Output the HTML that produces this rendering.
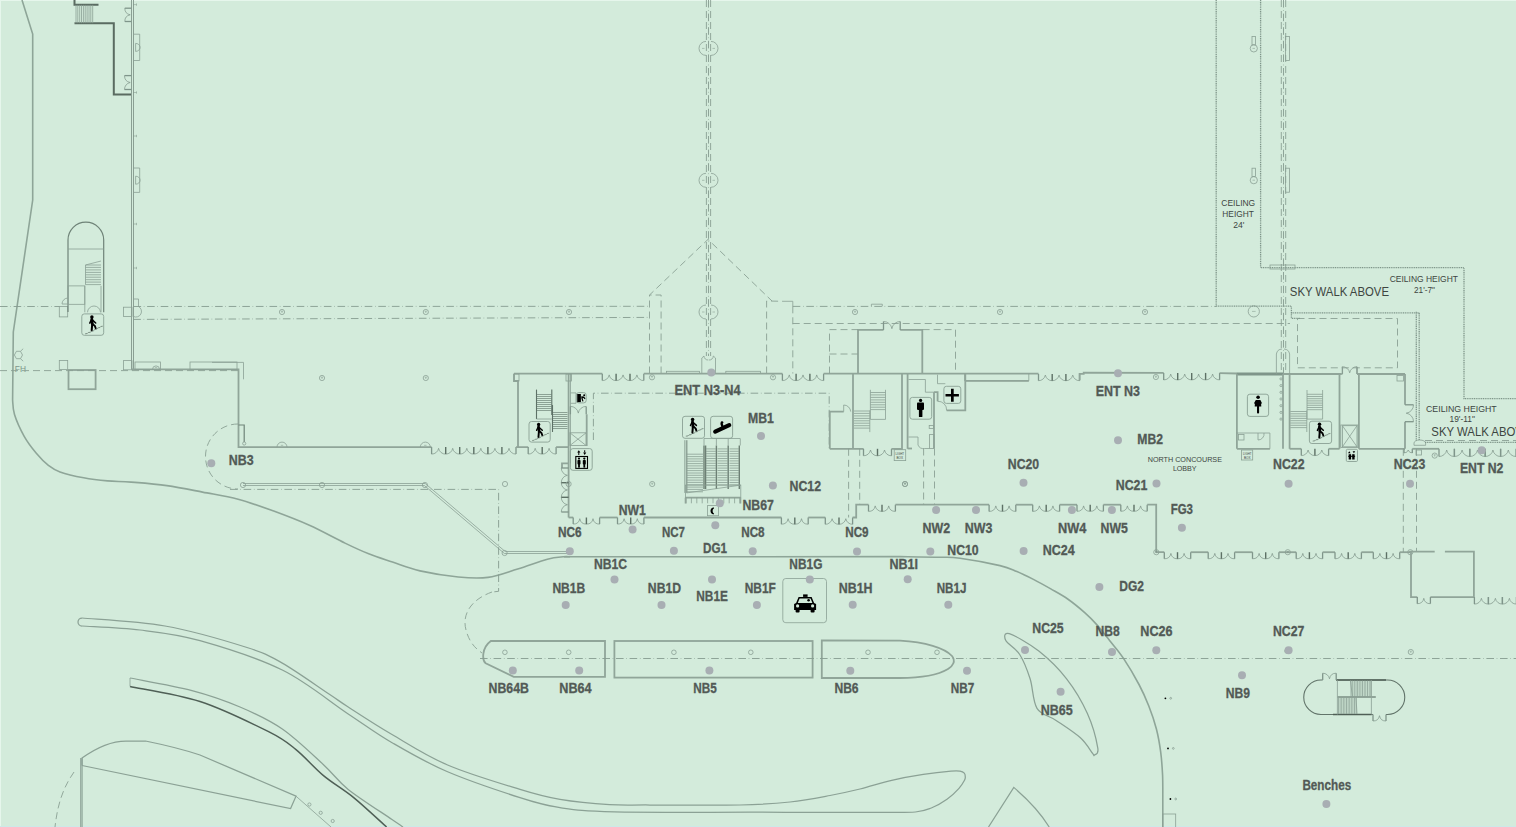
<!DOCTYPE html>
<html><head><meta charset="utf-8"><title>Map</title><style>
*{margin:0;padding:0}
html,body{width:1516px;height:827px;overflow:hidden;background:#d3ebdb}
svg{display:block}
.w{fill:none;stroke:#90a599;stroke-width:1.8}
.w2{fill:none;stroke:#8ea598;stroke-width:1.6}
.t{fill:none;stroke:#8aa094;stroke-width:0.8}
.t2{fill:none;stroke:#8aa094;stroke-width:1.1}
.tk{fill:none;stroke:#6f8479;stroke-width:1.2}
.dk{fill:none;stroke:#5a6b61;stroke-width:2}
.dk2{fill:none;stroke:#4f5f56;stroke-width:1.5}
.d{fill:none;stroke:#8aa094;stroke-width:0.9;stroke-dasharray:7 4}
.dd{fill:none;stroke:#869c90;stroke-width:0.9;stroke-dasharray:7.6 2.7 0.6 2.7}
.sk{fill:none;stroke:#7f968a;stroke-width:1.3;stroke-dasharray:1.1 0.7}
.rail{fill:none;stroke:#6d8075;stroke-width:1.4}
.w3{fill:none;stroke:#7f958a;stroke-width:2.8}
.arc{fill:none;stroke:#7d9286;stroke-width:0.7}
.leaf{fill:none;stroke:#5d7065;stroke-width:1.4}
.frame{fill:none;stroke:#7f958a;stroke-width:1.3}
.hair{fill:none;stroke:#7d9286;stroke-width:0.5}
.t15{fill:none;stroke:#8ba195;stroke-width:1.25}
.cap{fill:none;stroke:#62746a;stroke-width:1.1}
.capd{fill:none;stroke:#4f5f56;stroke-width:1.3}
.st{fill:none;stroke:#8ca295;stroke-width:1}
.stk{fill:none;stroke:#5d7166;stroke-width:1.1}
.w1{fill:none;stroke:#8a9f93;stroke-width:1}
.arch{fill:none;stroke:#6f8378;stroke-width:1.2}
.blk{fill:#000;stroke:none}
.ib{fill:none;stroke:#8aa094;stroke-width:0.9}
.lab text{font-family:"Liberation Sans",sans-serif;font-weight:bold;fill:#525a56;stroke:#525a56;stroke-width:0.3}
.sm text{font-family:"Liberation Sans",sans-serif;fill:#3d4541}
.dots circle{fill:#a8aeb3}
</style></head>
<body><svg width="1516" height="827" viewBox="0 0 1516 827">
<rect x="0" y="0" width="1516" height="827" fill="#d3ebdb"/>
<line x1="0" y1="0.5" x2="1516" y2="0.5" stroke="#e6f6ec" stroke-width="1"/>
<line x1="0.5" y1="0" x2="0.5" y2="827" stroke="#e6f6ec" stroke-width="1"/>
<line x1="0" y1="826.5" x2="1516" y2="826.5" stroke="#cce9e8" stroke-width="1"/>
<path class="w2" d="M22 0 L32.7 34 L32.7 200 L13.3 332 L12.6 400 C12.9 402.4 12.6 408.4 14.5 414.5 C16.4 420.6 20.6 429.9 24.2 436.3 C27.8 442.8 32.3 448.4 36.3 453.2 C40.3 458.0 44.4 462.2 48.4 465.3 C52.4 468.4 54.1 469.8 60.0 471.9 C65.9 474.0 75.8 476.3 83.7 477.8 C91.6 479.3 99.6 480.2 107.5 480.9 C115.4 481.6 121.3 481.3 131.2 482.1 C141.1 482.9 155.0 483.9 166.9 485.6 C178.8 487.3 190.6 489.8 202.5 492.1 C214.4 494.4 226.2 496.0 238.1 499.2 C250.0 502.4 261.8 506.8 273.7 511.1 C285.6 515.5 297.5 520.0 309.4 525.3 C321.3 530.6 335.1 538.4 345.0 543.1 C354.9 547.9 360.8 550.6 368.7 553.8 C376.6 557.0 383.9 559.2 392.5 562.1 C401.1 565.0 409.0 568.4 420.0 570.9 C431.0 573.4 447.0 575.9 458.3 577.0 C469.6 578.1 478.1 578.7 488.0 577.4 C497.9 576.1 507.8 572.0 517.7 569.0 C527.6 566.0 539.8 561.2 547.4 559.2 C555.0 557.2 559.4 557.2 563.2 556.8 C567.0 556.4 568.9 556.8 570.0 556.8 "/>
<polyline class="dk" points="74.5,0.0 74.5,4.8 98.5,4.8"/>
<polyline class="dk" points="74.5,23.2 113.8,23.2 113.8,94.4 131.4,94.4"/>
<line class="t" x1="76.0" y1="4.8" x2="76.0" y2="23.2"/>
<line class="t" x1="77.8" y1="4.8" x2="77.8" y2="23.2"/>
<line class="t" x1="79.7" y1="4.8" x2="79.7" y2="23.2"/>
<line class="t" x1="81.5" y1="4.8" x2="81.5" y2="23.2"/>
<line class="t" x1="83.4" y1="4.8" x2="83.4" y2="23.2"/>
<line class="t" x1="85.2" y1="4.8" x2="85.2" y2="23.2"/>
<line class="t" x1="87.1" y1="4.8" x2="87.1" y2="23.2"/>
<line class="t" x1="89.0" y1="4.8" x2="89.0" y2="23.2"/>
<line class="t" x1="90.8" y1="4.8" x2="90.8" y2="23.2"/>
<line class="t" x1="92.7" y1="4.8" x2="92.7" y2="23.2"/>
<line class="w1" x1="131.5" y1="0.0" x2="131.5" y2="369.4"/>
<line class="w1" x1="133.5" y1="0.0" x2="133.5" y2="369.4"/>
<path class="arc" d="M124.8 8.2 A6.7 6.7 0 0 0 130.2 14.8 M124.8 21.5 A6.7 6.7 0 0 1 130.2 14.8 "/>
<line class="frame" x1="131.4" y1="8.2" x2="124.8" y2="8.2"/>
<line class="frame" x1="131.4" y1="21.5" x2="124.8" y2="21.5"/>
<path class="arc" d="M124.5 75.6 A7.0 7.0 0 0 0 130.2 82.5 M124.5 89.5 A7.0 7.0 0 0 1 130.2 82.5 "/>
<line class="frame" x1="131.4" y1="75.6" x2="124.5" y2="75.6"/>
<line class="frame" x1="131.4" y1="89.5" x2="124.5" y2="89.5"/>
<polyline class="t" points="133.5,34.2 139.7,34.2 139.7,60.5 133.5,60.5"/>
<path class="t" d="M135.6 43.4 L135.6 51.4 M135.6 43.4 A4.5 4 0 0 1 135.6 51.4"/>
<polyline class="t" points="133.5,168.0 139.7,168.0 139.7,192.4 133.5,192.4"/>
<path class="t" d="M135.6 176.2 L135.6 184.2 M135.6 176.2 A4.5 4 0 0 1 135.6 184.2"/>
<line class="hair" x1="133.3" y1="4.6" x2="136.5" y2="4.6"/>
<line class="hair" x1="136.5" y1="3.4" x2="136.5" y2="5.8"/>
<line class="hair" x1="133.3" y1="92.5" x2="136.5" y2="92.5"/>
<line class="hair" x1="136.5" y1="91.3" x2="136.5" y2="93.7"/>
<line class="hair" x1="133.3" y1="136.0" x2="136.5" y2="136.0"/>
<line class="hair" x1="136.5" y1="134.8" x2="136.5" y2="137.2"/>
<line class="hair" x1="133.3" y1="224.0" x2="136.5" y2="224.0"/>
<line class="hair" x1="136.5" y1="222.8" x2="136.5" y2="225.2"/>
<line class="hair" x1="133.3" y1="268.0" x2="136.5" y2="268.0"/>
<line class="hair" x1="136.5" y1="266.8" x2="136.5" y2="269.2"/>
<polyline class="w" points="131.4,369.4 238.5,369.4 238.5,447.1 431.6,447.1"/>
<polyline class="t" points="212.0,362.4 243.5,362.4 243.5,379.3"/>
<rect class="t" x="135.0" y="362.0" width="25.5" height="7.4"/>
<rect class="t" x="190.0" y="362.0" width="47.0" height="7.4"/>
<path class="t" d="M152.5 369.4 A3.5 3.5 0 0 1 159.5 369.4"/>
<line class="hair" x1="154.8" y1="367.6" x2="157.2" y2="367.6"/>
<path class="t" d="M277.0 447.1 A5 5 0 0 1 287.0 447.1"/>
<line class="hair" x1="280.8" y1="445.3" x2="283.2" y2="445.3"/>
<path class="t" d="M420.3 447.1 A5 5 0 0 1 430.3 447.1"/>
<line class="hair" x1="424.1" y1="445.3" x2="426.5" y2="445.3"/>
<rect class="t" x="123.4" y="307.2" width="8.6" height="9.2"/>
<rect class="t" x="123.4" y="360.6" width="8.6" height="9.2"/>
<path class="t" d="M133.3 299 L138.5 299 L138.5 306.5 A5 5 0 0 1 133.3 316.4"/>
<polyline class="tk" points="238.5,425.0 244.2,425.0 244.2,442.0"/>
<circle class="t" cx="244.2" cy="443.5" r="1.6"/>
<rect class="t" x="59.3" y="306.5" width="8.4" height="10.4"/>
<rect class="t" x="59.3" y="360.4" width="8.4" height="9.0"/>
<rect class="w" x="68.5" y="370.0" width="27.1" height="19.2"/>
<path class="arch" d="M68 312 L68 240 A17.85 17.85 0 0 1 103.7 240 L103.7 312.3"/>
<line class="t" x1="68.0" y1="249.0" x2="103.7" y2="249.0"/>
<line class="t" x1="85.5" y1="265.0" x2="101.0" y2="265.0"/>
<line class="t" x1="85.5" y1="267.4" x2="101.0" y2="267.4"/>
<line class="t" x1="85.5" y1="269.9" x2="101.0" y2="269.9"/>
<line class="t" x1="85.5" y1="272.4" x2="101.0" y2="272.4"/>
<line class="t" x1="85.5" y1="274.8" x2="101.0" y2="274.8"/>
<line class="t" x1="85.5" y1="277.2" x2="101.0" y2="277.2"/>
<line class="t" x1="85.5" y1="279.7" x2="101.0" y2="279.7"/>
<line class="t" x1="85.5" y1="282.1" x2="101.0" y2="282.1"/>
<line class="t" x1="85.5" y1="284.6" x2="101.0" y2="284.6"/>
<polyline class="t" points="85.5,284.7 85.5,265.0 101.0,261.0"/>
<rect class="t" x="68.0" y="285.9" width="16.8" height="18.4"/>
<line class="t" x1="84.8" y1="285.9" x2="84.8" y2="312.3"/>
<line class="t" x1="101.0" y1="285.9" x2="101.0" y2="312.3"/>
<path class="t" d="M87.5 312.3 A6.5 6.5 0 0 1 94 306 M100.5 312.3 A6.5 6.5 0 0 0 94 306"/>
<path class="t" d="M68 298 A6 6 0 0 0 62 304 L68 304"/>
<text x="14.8" y="371.6" textLength="11.2" lengthAdjust="spacingAndGlyphs" font-size="9" fill="#7f968a" font-family="Liberation Sans, sans-serif">FH</text>
<path class="t" d="M14.4 355 L16.4 351.3 L20.5 351.3 L22.5 355 L20.5 358.7 L16.4 358.7 Z M20.5 351.3 L23.2 348.7 M20.5 358.7 L23.2 361.2"/>
<line class="dd" x1="0.0" y1="306.5" x2="59.0" y2="306.5"/>
<line class="dd" x1="133.5" y1="306.5" x2="649.5" y2="306.3"/>
<line class="dd" x1="133.3" y1="319.4" x2="649.5" y2="317.4"/>
<line class="d" x1="0.0" y1="370.6" x2="240.0" y2="370.6"/>
<line class="dd" x1="792.7" y1="306.4" x2="1216.0" y2="306.4"/>
<line class="d" x1="792.7" y1="323.5" x2="1290.0" y2="323.5"/>
<circle class="t" cx="322.0" cy="378.0" r="2.6"/>
<line class="hair" x1="320.9" y1="377.2" x2="323.1" y2="377.2"/>
<line class="hair" x1="322.0" y1="377.2" x2="322.0" y2="379.0"/>
<circle class="t" cx="425.8" cy="378.0" r="2.6"/>
<line class="hair" x1="424.7" y1="377.2" x2="426.9" y2="377.2"/>
<line class="hair" x1="425.8" y1="377.2" x2="425.8" y2="379.0"/>
<circle class="t" cx="425.8" cy="312.0" r="2.6"/>
<line class="hair" x1="424.7" y1="311.2" x2="426.9" y2="311.2"/>
<line class="hair" x1="425.8" y1="311.2" x2="425.8" y2="313.0"/>
<circle class="t" cx="569.0" cy="312.0" r="2.6"/>
<line class="hair" x1="567.9" y1="311.2" x2="570.1" y2="311.2"/>
<line class="hair" x1="569.0" y1="311.2" x2="569.0" y2="313.0"/>
<circle class="t" cx="282.0" cy="312.0" r="2.6"/>
<line class="hair" x1="280.9" y1="311.2" x2="283.1" y2="311.2"/>
<line class="hair" x1="282.0" y1="311.2" x2="282.0" y2="313.0"/>
<circle class="t" cx="1000.0" cy="312.0" r="2.6"/>
<line class="hair" x1="998.9" y1="311.2" x2="1001.1" y2="311.2"/>
<line class="hair" x1="1000.0" y1="311.2" x2="1000.0" y2="313.0"/>
<circle class="t" cx="1145.0" cy="312.0" r="2.6"/>
<line class="hair" x1="1143.9" y1="311.2" x2="1146.1" y2="311.2"/>
<line class="hair" x1="1145.0" y1="311.2" x2="1145.0" y2="313.0"/>
<circle class="t" cx="855.0" cy="312.0" r="2.6"/>
<line class="hair" x1="853.9" y1="311.2" x2="856.1" y2="311.2"/>
<line class="hair" x1="855.0" y1="311.2" x2="855.0" y2="313.0"/>
<path class="t" d="M243 483.5 L425.2 483.5 L505.2 551.5 L569 551.5"/>
<path class="t" d="M243 485.5 L424.4 485.5 L504.4 553.5 L569 553.5"/>
<circle class="t" cx="243.0" cy="485.0" r="2.6"/>
<circle class="t" cx="322.0" cy="485.0" r="2.6"/>
<circle class="t" cx="424.9" cy="485.0" r="2.6"/>
<circle class="t" cx="504.6" cy="553.0" r="2.6"/>
<circle class="t" cx="505.0" cy="484.0" r="2.6"/>
<path class="dd" d="M230 489.4 L498.6 489.4 L498.6 591.3 L492.5 592"/>
<path class="d" d="M238 424 A32.5 32.5 0 0 0 238 489"/>
<path class="d" d="M492 592 C470 600 462 615 466 630 C470 645 478 650 482 653"/>
<line class="d" x1="706.4" y1="0.0" x2="706.4" y2="356.0"/>
<line class="d" x1="710.6" y1="0.0" x2="710.6" y2="356.0"/>
<line class="dd" x1="708.5" y1="0.0" x2="708.5" y2="356.0"/>
<path class="t" d="M706 41.4 A7 7 0 0 0 706 55.4"/>
<path class="t" d="M711 41.4 A7 7 0 0 1 711 55.4"/>
<line class="hair" x1="702.0" y1="48.4" x2="704.5" y2="48.4"/>
<line class="hair" x1="712.5" y1="48.4" x2="715.0" y2="48.4"/>
<path class="t" d="M706 173.3 A7 7 0 0 0 706 187.3"/>
<path class="t" d="M711 173.3 A7 7 0 0 1 711 187.3"/>
<line class="hair" x1="702.0" y1="180.3" x2="704.5" y2="180.3"/>
<line class="hair" x1="712.5" y1="180.3" x2="715.0" y2="180.3"/>
<path class="t" d="M706 305.0 A7 7 0 0 0 706 319.0"/>
<path class="t" d="M711 305.0 A7 7 0 0 1 711 319.0"/>
<line class="hair" x1="702.0" y1="312.0" x2="704.5" y2="312.0"/>
<line class="hair" x1="712.5" y1="312.0" x2="715.0" y2="312.0"/>
<path class="d" d="M649.5 373.5 L649.5 295 L708 239.4 L772 301"/>
<path class="d" d="M661.1 373.5 L661.1 295 L649.5 295"/>
<path class="d" d="M766.6 373.5 L766.6 301 L782.9 301.3 M792.8 306.3 L792.8 373.5"/>
<polyline class="t" points="701.8,373.5 701.8,358.0 704.0,356.0"/>
<polyline class="t" points="715.5,373.5 715.5,358.0 713.3,356.0"/>
<path class="t" d="M704 356 A4 4 0 0 0 708.3 360 M713.3 356 A4 4 0 0 1 709 360"/>
<rect class="t" x="666.6" y="371.3" width="33.0" height="2.2"/>
<rect class="t" x="725.8" y="371.3" width="34.6" height="2.2"/>
<line class="w" x1="514.0" y1="373.7" x2="602.3" y2="373.7"/>
<path class="arc" d="M602.3 380.6 A6.9 6.9 0 0 0 609.2 374.9 M616.1 380.6 A6.9 6.9 0 0 1 609.2 374.9 M616.1 380.6 A6.9 6.9 0 0 0 623.0 374.9 M630.0 380.6 A6.9 6.9 0 0 1 623.1 374.9 M630.0 380.6 A6.9 6.9 0 0 0 636.9 374.9 M643.8 380.6 A6.9 6.9 0 0 1 636.9 374.9 "/>
<line class="frame" x1="602.3" y1="373.7" x2="602.3" y2="380.6"/>
<line class="leaf" x1="616.1" y1="373.7" x2="616.1" y2="380.6"/>
<line class="leaf" x1="630.0" y1="373.7" x2="630.0" y2="380.6"/>
<line class="frame" x1="643.8" y1="373.7" x2="643.8" y2="380.6"/>
<line class="w" x1="643.8" y1="373.7" x2="782.4" y2="373.7"/>
<path class="arc" d="M782.4 380.6 A6.9 6.9 0 0 0 789.3 374.9 M796.1 380.6 A6.9 6.9 0 0 1 789.3 374.9 M796.1 380.6 A6.9 6.9 0 0 0 803.0 374.9 M809.9 380.6 A6.9 6.9 0 0 1 803.0 374.9 M809.9 380.6 A6.9 6.9 0 0 0 816.7 374.9 M823.6 380.6 A6.9 6.9 0 0 1 816.7 374.9 "/>
<line class="frame" x1="782.4" y1="373.7" x2="782.4" y2="380.6"/>
<line class="leaf" x1="796.1" y1="373.7" x2="796.1" y2="380.6"/>
<line class="leaf" x1="809.9" y1="373.7" x2="809.9" y2="380.6"/>
<line class="frame" x1="823.6" y1="373.7" x2="823.6" y2="380.6"/>
<line class="w" x1="823.6" y1="373.7" x2="1038.5" y2="373.7"/>
<circle class="t" cx="652.0" cy="377.3" r="2.6"/>
<line class="hair" x1="650.9" y1="376.5" x2="653.1" y2="376.5"/>
<line class="hair" x1="652.0" y1="376.5" x2="652.0" y2="378.3"/>
<circle class="t" cx="773.0" cy="377.3" r="2.6"/>
<line class="hair" x1="771.9" y1="376.5" x2="774.1" y2="376.5"/>
<line class="hair" x1="773.0" y1="376.5" x2="773.0" y2="378.3"/>
<polyline class="t" points="964.6,373.9 964.6,380.8 1028.8,380.8 1028.8,373.9"/>
<line class="w" x1="965.0" y1="380.8" x2="1028.8" y2="380.8"/>
<path class="arc" d="M1038.5 380.7 A6.8 6.8 0 0 0 1045.3 375.1 M1052.2 380.7 A6.8 6.8 0 0 1 1045.4 375.1 M1052.2 380.7 A6.8 6.8 0 0 0 1059.0 375.1 M1065.9 380.7 A6.8 6.8 0 0 1 1059.1 375.1 M1065.9 380.7 A6.8 6.8 0 0 0 1072.7 375.1 M1079.6 380.7 A6.8 6.8 0 0 1 1072.8 375.1 "/>
<line class="frame" x1="1038.5" y1="373.9" x2="1038.5" y2="380.7"/>
<line class="leaf" x1="1052.2" y1="373.9" x2="1052.2" y2="380.7"/>
<line class="leaf" x1="1065.9" y1="373.9" x2="1065.9" y2="380.7"/>
<line class="frame" x1="1079.6" y1="373.9" x2="1079.6" y2="380.7"/>
<polyline class="w" points="1079.6,380.0 1079.6,373.9 1083.7,373.9 1083.7,372.7 1163.7,372.9"/>
<path class="arc" d="M1163.7 379.9 A7.0 7.0 0 0 0 1170.7 374.1 M1177.7 379.9 A7.0 7.0 0 0 1 1170.7 374.1 M1177.7 379.9 A7.0 7.0 0 0 0 1184.7 374.1 M1191.6 379.9 A7.0 7.0 0 0 1 1184.7 374.1 M1191.7 379.9 A7.0 7.0 0 0 0 1198.6 374.1 M1205.6 379.9 A7.0 7.0 0 0 1 1198.6 374.1 M1205.6 379.9 A7.0 7.0 0 0 0 1212.6 374.1 M1219.6 379.9 A7.0 7.0 0 0 1 1212.6 374.1 "/>
<line class="frame" x1="1163.7" y1="372.9" x2="1163.7" y2="379.9"/>
<line class="leaf" x1="1177.7" y1="372.9" x2="1177.7" y2="379.9"/>
<line class="leaf" x1="1191.7" y1="372.9" x2="1191.7" y2="379.9"/>
<line class="leaf" x1="1205.6" y1="372.9" x2="1205.6" y2="379.9"/>
<line class="frame" x1="1219.6" y1="372.9" x2="1219.6" y2="379.9"/>
<line class="w" x1="1219.6" y1="373.2" x2="1237.1" y2="373.5"/>
<circle class="t" cx="1155.9" cy="377.0" r="2.6"/>
<line class="hair" x1="1154.8" y1="376.2" x2="1157.0" y2="376.2"/>
<line class="hair" x1="1155.9" y1="376.2" x2="1155.9" y2="378.0"/>
<polyline class="w" points="858.0,373.6 858.0,329.9 883.5,329.9"/>
<polyline class="w" points="900.2,329.9 922.3,329.9 922.3,373.6"/>
<path class="arc" d="M883.5 321.5 A8.4 8.4 0 0 1 891.9 328.7 M900.2 321.5 A8.4 8.4 0 0 0 891.9 328.7 "/>
<line class="frame" x1="883.5" y1="329.9" x2="883.5" y2="321.5"/>
<line class="frame" x1="900.2" y1="329.9" x2="900.2" y2="321.5"/>
<polyline class="t" points="871.4,306.3 871.4,304.2 882.3,304.2 882.3,306.3"/>
<polyline class="t" points="782.9,301.3 792.8,301.3 792.8,306.3"/>
<path class="d" d="M829.5 373.6 L829.5 329.6 L858 329.6 M922.6 329.6 L955.5 329.6 L955.5 373.6"/>
<line class="d" x1="829.5" y1="354.0" x2="858.0" y2="354.0"/>
<polyline class="w" points="514.0,373.7 514.0,381.0 518.0,381.0 518.0,447.1 528.2,447.1"/>
<rect class="t" x="514.0" y="374.0" width="5.0" height="7.0"/>
<path class="arc" d="M528.2 454.1 A7.0 7.0 0 0 0 535.2 448.3 M542.2 454.1 A7.0 7.0 0 0 1 535.2 448.3 M542.2 454.1 A7.0 7.0 0 0 0 549.1 448.3 M556.1 454.1 A7.0 7.0 0 0 1 549.1 448.3 "/>
<line class="frame" x1="528.2" y1="447.1" x2="528.2" y2="454.1"/>
<line class="leaf" x1="542.2" y1="447.1" x2="542.2" y2="454.1"/>
<line class="frame" x1="556.1" y1="447.1" x2="556.1" y2="454.1"/>
<line class="w" x1="556.1" y1="447.1" x2="568.8" y2="447.1"/>
<path class="arc" d="M431.6 454.1 A7.0 7.0 0 0 0 438.6 448.3 M445.7 454.1 A7.0 7.0 0 0 1 438.6 448.3 M445.7 454.1 A7.0 7.0 0 0 0 452.7 448.3 M459.7 454.1 A7.0 7.0 0 0 1 452.7 448.3 M459.7 454.1 A7.0 7.0 0 0 0 466.8 448.3 M473.8 454.1 A7.0 7.0 0 0 1 466.8 448.3 M473.8 454.1 A7.0 7.0 0 0 0 480.8 448.3 M487.9 454.1 A7.0 7.0 0 0 1 480.8 448.3 M487.9 454.1 A7.0 7.0 0 0 0 494.9 448.3 M501.9 454.1 A7.0 7.0 0 0 1 494.9 448.3 M501.9 454.1 A7.0 7.0 0 0 0 509.0 448.3 M516.0 454.1 A7.0 7.0 0 0 1 509.0 448.3 "/>
<line class="frame" x1="431.6" y1="447.1" x2="431.6" y2="454.1"/>
<line class="leaf" x1="445.7" y1="447.1" x2="445.7" y2="454.1"/>
<line class="leaf" x1="459.7" y1="447.1" x2="459.7" y2="454.1"/>
<line class="leaf" x1="473.8" y1="447.1" x2="473.8" y2="454.1"/>
<line class="leaf" x1="487.9" y1="447.1" x2="487.9" y2="454.1"/>
<line class="leaf" x1="501.9" y1="447.1" x2="501.9" y2="454.1"/>
<line class="frame" x1="516.0" y1="447.1" x2="516.0" y2="454.1"/>
<polyline class="w" points="516.0,447.1 518.0,447.1"/>
<line class="w" x1="568.6" y1="374.0" x2="568.6" y2="517.5"/>
<line class="t" x1="570.5" y1="374.0" x2="570.5" y2="463.4"/>
<rect class="t" x="566.0" y="374.0" width="5.5" height="7.0"/>
<line class="st" x1="537.0" y1="394.5" x2="551.5" y2="394.5"/>
<line class="st" x1="537.0" y1="396.5" x2="551.5" y2="396.5"/>
<line class="st" x1="537.0" y1="398.5" x2="551.5" y2="398.5"/>
<line class="st" x1="537.0" y1="400.5" x2="551.5" y2="400.5"/>
<line class="st" x1="537.0" y1="402.5" x2="551.5" y2="402.5"/>
<line class="st" x1="537.0" y1="404.5" x2="551.5" y2="404.5"/>
<line class="st" x1="537.0" y1="406.5" x2="551.5" y2="406.5"/>
<line class="st" x1="537.0" y1="408.5" x2="551.5" y2="408.5"/>
<line class="st" x1="537.0" y1="410.5" x2="551.5" y2="410.5"/>
<line class="stk" x1="536.5" y1="389.6" x2="536.5" y2="419.0"/>
<line class="stk" x1="551.8" y1="389.6" x2="551.8" y2="415.0"/>
<line class="t" x1="536.5" y1="419.0" x2="551.8" y2="419.0"/>
<line class="st" x1="553.0" y1="412.5" x2="567.5" y2="412.5"/>
<line class="st" x1="553.0" y1="414.5" x2="567.5" y2="414.5"/>
<line class="st" x1="553.0" y1="416.5" x2="567.5" y2="416.5"/>
<line class="st" x1="553.0" y1="418.5" x2="567.5" y2="418.5"/>
<line class="st" x1="553.0" y1="420.5" x2="567.5" y2="420.5"/>
<line class="st" x1="553.0" y1="422.5" x2="567.5" y2="422.5"/>
<line class="st" x1="553.0" y1="424.5" x2="567.5" y2="424.5"/>
<line class="st" x1="553.0" y1="426.5" x2="567.5" y2="426.5"/>
<line class="st" x1="553.0" y1="428.5" x2="567.5" y2="428.5"/>
<line class="stk" x1="552.5" y1="405.0" x2="552.5" y2="432.0"/>
<rect class="t" x="569.9" y="432.8" width="16.2" height="12.7"/>
<line class="t" x1="569.9" y1="432.8" x2="586.1" y2="445.5"/>
<line class="t" x1="586.1" y1="432.8" x2="569.9" y2="445.5"/>
<polyline class="t" points="570.5,392.9 576.0,392.9 576.0,403.3 570.5,403.3"/>
<line class="w" x1="586.7" y1="414.3" x2="586.7" y2="446.0"/>
<path class="arc" d="M570.4 406.4 A7.9 7.9 0 0 1 578.3 413.1 M586.2 406.4 A7.9 7.9 0 0 0 578.3 413.1 "/>
<line class="frame" x1="570.4" y1="414.3" x2="570.4" y2="406.4"/>
<line class="frame" x1="586.2" y1="414.3" x2="586.2" y2="406.4"/>
<polyline class="w" points="568.6,463.4 562.0,463.4 562.0,468.0"/>
<path class="arc" d="M561.3 468.0 A7.3 7.3 0 0 0 567.4 475.3 M561.3 482.7 A7.3 7.3 0 0 1 567.4 475.3 M561.3 482.7 A7.3 7.3 0 0 0 567.4 490.0 M561.3 497.3 A7.3 7.3 0 0 1 567.4 490.0 M561.3 497.3 A7.3 7.3 0 0 0 567.4 504.7 M561.3 512.0 A7.3 7.3 0 0 1 567.4 504.7 "/>
<line class="frame" x1="568.6" y1="468.0" x2="561.3" y2="468.0"/>
<line class="leaf" x1="568.6" y1="482.7" x2="561.3" y2="482.7"/>
<line class="leaf" x1="568.6" y1="497.3" x2="561.3" y2="497.3"/>
<line class="frame" x1="568.6" y1="512.0" x2="561.3" y2="512.0"/>
<polyline class="w" points="568.6,517.5 573.2,517.5"/>
<path class="arc" d="M573.2 524.1 A6.6 6.6 0 0 0 579.8 518.7 M586.4 524.1 A6.6 6.6 0 0 1 579.8 518.7 M586.4 524.1 A6.6 6.6 0 0 0 593.0 518.7 M599.6 524.1 A6.6 6.6 0 0 1 593.0 518.7 "/>
<line class="frame" x1="573.2" y1="517.5" x2="573.2" y2="524.1"/>
<line class="leaf" x1="586.4" y1="517.5" x2="586.4" y2="524.1"/>
<line class="frame" x1="599.6" y1="517.5" x2="599.6" y2="524.1"/>
<line class="w" x1="599.6" y1="517.5" x2="617.5" y2="517.5"/>
<path class="arc" d="M617.5 524.1 A6.6 6.6 0 0 0 624.1 518.7 M630.7 524.1 A6.6 6.6 0 0 1 624.1 518.7 M630.7 524.1 A6.6 6.6 0 0 0 637.3 518.7 M643.9 524.1 A6.6 6.6 0 0 1 637.3 518.7 "/>
<line class="frame" x1="617.5" y1="517.5" x2="617.5" y2="524.1"/>
<line class="leaf" x1="630.7" y1="517.5" x2="630.7" y2="524.1"/>
<line class="frame" x1="643.9" y1="517.5" x2="643.9" y2="524.1"/>
<line class="w" x1="643.9" y1="517.5" x2="781.4" y2="517.5"/>
<path class="arc" d="M781.4 524.2 A6.7 6.7 0 0 0 788.1 518.7 M794.8 524.2 A6.7 6.7 0 0 1 788.1 518.7 M794.8 524.2 A6.7 6.7 0 0 0 801.5 518.7 M808.2 524.2 A6.7 6.7 0 0 1 801.5 518.7 "/>
<line class="frame" x1="781.4" y1="517.5" x2="781.4" y2="524.2"/>
<line class="leaf" x1="794.8" y1="517.5" x2="794.8" y2="524.2"/>
<line class="frame" x1="808.2" y1="517.5" x2="808.2" y2="524.2"/>
<line class="w" x1="808.2" y1="517.5" x2="825.3" y2="517.5"/>
<path class="arc" d="M825.3 524.3 A6.8 6.8 0 0 0 832.1 518.7 M839.0 524.3 A6.8 6.8 0 0 1 832.1 518.7 M839.0 524.3 A6.8 6.8 0 0 0 845.8 518.7 M852.6 524.3 A6.8 6.8 0 0 1 845.8 518.7 "/>
<line class="frame" x1="825.3" y1="517.5" x2="825.3" y2="524.3"/>
<line class="leaf" x1="839.0" y1="517.5" x2="839.0" y2="524.3"/>
<line class="frame" x1="852.6" y1="517.5" x2="852.6" y2="524.3"/>
<polyline class="w" points="852.6,517.5 856.2,517.5 856.2,504.7 868.5,504.7"/>
<path class="arc" d="M868.5 511.4 A6.7 6.7 0 0 0 875.2 505.9 M882.0 511.4 A6.7 6.7 0 0 1 875.2 505.9 M882.0 511.4 A6.7 6.7 0 0 0 888.7 505.9 M895.4 511.4 A6.7 6.7 0 0 1 888.7 505.9 "/>
<line class="frame" x1="868.5" y1="504.7" x2="868.5" y2="511.4"/>
<line class="leaf" x1="882.0" y1="504.7" x2="882.0" y2="511.4"/>
<line class="frame" x1="895.4" y1="504.7" x2="895.4" y2="511.4"/>
<line class="w" x1="895.4" y1="504.7" x2="989.1" y2="504.7"/>
<path class="arc" d="M989.1 511.4 A6.7 6.7 0 0 0 995.8 505.9 M1002.5 511.4 A6.7 6.7 0 0 1 995.8 505.9 M1002.5 511.4 A6.7 6.7 0 0 0 1009.1 505.9 M1015.8 511.4 A6.7 6.7 0 0 1 1009.1 505.9 "/>
<line class="frame" x1="989.1" y1="504.7" x2="989.1" y2="511.4"/>
<line class="leaf" x1="1002.5" y1="504.7" x2="1002.5" y2="511.4"/>
<line class="frame" x1="1015.8" y1="504.7" x2="1015.8" y2="511.4"/>
<line class="w" x1="1015.8" y1="504.7" x2="1032.7" y2="504.7"/>
<path class="arc" d="M1032.7 511.4 A6.7 6.7 0 0 0 1039.4 505.9 M1046.2 511.4 A6.7 6.7 0 0 1 1039.4 505.9 M1046.2 511.4 A6.7 6.7 0 0 0 1052.9 505.9 M1059.6 511.4 A6.7 6.7 0 0 1 1052.9 505.9 "/>
<line class="frame" x1="1032.7" y1="504.7" x2="1032.7" y2="511.4"/>
<line class="leaf" x1="1046.2" y1="504.7" x2="1046.2" y2="511.4"/>
<line class="frame" x1="1059.6" y1="504.7" x2="1059.6" y2="511.4"/>
<line class="w" x1="1059.6" y1="504.7" x2="1077.0" y2="504.7"/>
<path class="arc" d="M1077.0 511.3 A6.6 6.6 0 0 0 1083.6 505.9 M1090.2 511.3 A6.6 6.6 0 0 1 1083.6 505.9 M1090.2 511.3 A6.6 6.6 0 0 0 1096.8 505.9 M1103.4 511.3 A6.6 6.6 0 0 1 1096.8 505.9 "/>
<line class="frame" x1="1077.0" y1="504.7" x2="1077.0" y2="511.3"/>
<line class="leaf" x1="1090.2" y1="504.7" x2="1090.2" y2="511.3"/>
<line class="frame" x1="1103.4" y1="504.7" x2="1103.4" y2="511.3"/>
<line class="w" x1="1103.4" y1="504.7" x2="1120.8" y2="504.7"/>
<path class="arc" d="M1120.8 511.3 A6.6 6.6 0 0 0 1127.4 505.9 M1134.0 511.3 A6.6 6.6 0 0 1 1127.4 505.9 M1134.0 511.3 A6.6 6.6 0 0 0 1140.6 505.9 M1147.2 511.3 A6.6 6.6 0 0 1 1140.6 505.9 "/>
<line class="frame" x1="1120.8" y1="504.7" x2="1120.8" y2="511.3"/>
<line class="leaf" x1="1134.0" y1="504.7" x2="1134.0" y2="511.3"/>
<line class="frame" x1="1147.2" y1="504.7" x2="1147.2" y2="511.3"/>
<polyline class="w" points="1147.2,504.7 1156.2,504.7 1156.2,552.2 1164.3,552.2"/>
<path class="arc" d="M1164.3 558.8 A6.6 6.6 0 0 0 1170.9 553.4 M1177.5 558.8 A6.6 6.6 0 0 1 1170.9 553.4 M1177.5 558.8 A6.6 6.6 0 0 0 1184.1 553.4 M1190.7 558.8 A6.6 6.6 0 0 1 1184.1 553.4 "/>
<line class="frame" x1="1164.3" y1="552.2" x2="1164.3" y2="558.8"/>
<line class="leaf" x1="1177.5" y1="552.2" x2="1177.5" y2="558.8"/>
<line class="frame" x1="1190.7" y1="552.2" x2="1190.7" y2="558.8"/>
<line class="w" x1="1190.7" y1="552.2" x2="1208.2" y2="552.2"/>
<path class="arc" d="M1208.2 558.8 A6.6 6.6 0 0 0 1214.8 553.4 M1221.4 558.8 A6.6 6.6 0 0 1 1214.8 553.4 M1221.4 558.8 A6.6 6.6 0 0 0 1228.0 553.4 M1234.6 558.8 A6.6 6.6 0 0 1 1228.0 553.4 "/>
<line class="frame" x1="1208.2" y1="552.2" x2="1208.2" y2="558.8"/>
<line class="leaf" x1="1221.4" y1="552.2" x2="1221.4" y2="558.8"/>
<line class="frame" x1="1234.6" y1="552.2" x2="1234.6" y2="558.8"/>
<line class="w" x1="1234.6" y1="552.2" x2="1252.5" y2="552.2"/>
<path class="arc" d="M1252.5 558.8 A6.6 6.6 0 0 0 1259.1 553.4 M1265.7 558.8 A6.6 6.6 0 0 1 1259.1 553.4 M1265.7 558.8 A6.6 6.6 0 0 0 1272.3 553.4 M1278.9 558.8 A6.6 6.6 0 0 1 1272.3 553.4 "/>
<line class="frame" x1="1252.5" y1="552.2" x2="1252.5" y2="558.8"/>
<line class="leaf" x1="1265.7" y1="552.2" x2="1265.7" y2="558.8"/>
<line class="frame" x1="1278.9" y1="552.2" x2="1278.9" y2="558.8"/>
<line class="w" x1="1278.9" y1="552.2" x2="1296.2" y2="552.2"/>
<path class="arc" d="M1296.2 558.8 A6.6 6.6 0 0 0 1302.8 553.4 M1309.4 558.8 A6.6 6.6 0 0 1 1302.8 553.4 M1309.4 558.8 A6.6 6.6 0 0 0 1316.0 553.4 M1322.6 558.8 A6.6 6.6 0 0 1 1316.0 553.4 "/>
<line class="frame" x1="1296.2" y1="552.2" x2="1296.2" y2="558.8"/>
<line class="leaf" x1="1309.4" y1="552.2" x2="1309.4" y2="558.8"/>
<line class="frame" x1="1322.6" y1="552.2" x2="1322.6" y2="558.8"/>
<line class="w" x1="1322.6" y1="552.2" x2="1335.0" y2="552.2"/>
<path class="arc" d="M1335.0 558.8 A6.6 6.6 0 0 0 1341.6 553.4 M1348.2 558.8 A6.6 6.6 0 0 1 1341.6 553.4 M1348.2 558.8 A6.6 6.6 0 0 0 1354.8 553.4 M1361.4 558.8 A6.6 6.6 0 0 1 1354.8 553.4 "/>
<line class="frame" x1="1335.0" y1="552.2" x2="1335.0" y2="558.8"/>
<line class="leaf" x1="1348.2" y1="552.2" x2="1348.2" y2="558.8"/>
<line class="frame" x1="1361.4" y1="552.2" x2="1361.4" y2="558.8"/>
<line class="w" x1="1361.4" y1="552.2" x2="1373.3" y2="552.2"/>
<path class="arc" d="M1373.3 558.8 A6.6 6.6 0 0 0 1379.9 553.4 M1386.5 558.8 A6.6 6.6 0 0 1 1379.9 553.4 M1386.5 558.8 A6.6 6.6 0 0 0 1393.1 553.4 M1399.7 558.8 A6.6 6.6 0 0 1 1393.1 553.4 "/>
<line class="frame" x1="1373.3" y1="552.2" x2="1373.3" y2="558.8"/>
<line class="leaf" x1="1386.5" y1="552.2" x2="1386.5" y2="558.8"/>
<line class="frame" x1="1399.7" y1="552.2" x2="1399.7" y2="558.8"/>
<line class="w" x1="1399.7" y1="552.2" x2="1410.5" y2="552.2"/>
<circle class="t" cx="1156.3" cy="552.2" r="2.6"/>
<line class="hair" x1="1155.2" y1="551.4" x2="1157.4" y2="551.4"/>
<line class="hair" x1="1156.3" y1="551.4" x2="1156.3" y2="553.2"/>
<circle class="t" cx="1287.8" cy="552.2" r="2.6"/>
<line class="hair" x1="1286.7" y1="551.4" x2="1288.9" y2="551.4"/>
<line class="hair" x1="1287.8" y1="551.4" x2="1287.8" y2="553.2"/>
<circle class="t" cx="1410.3" cy="552.2" r="2.6"/>
<line class="hair" x1="1409.2" y1="551.4" x2="1411.4" y2="551.4"/>
<line class="hair" x1="1410.3" y1="551.4" x2="1410.3" y2="553.2"/>
<path class="dd" d="M593.4 440 L593.4 393.2 L829.2 393.2 L829.2 449"/>
<line class="t" x1="684.7" y1="440.2" x2="684.7" y2="492.9"/>
<line class="w" x1="686.6" y1="440.2" x2="686.6" y2="492.9"/>
<line class="t" x1="686.6" y1="454.2" x2="703.0" y2="454.2"/>
<line class="t" x1="686.6" y1="456.6" x2="703.0" y2="456.6"/>
<line class="t" x1="686.6" y1="458.9" x2="703.0" y2="458.9"/>
<line class="t" x1="686.6" y1="461.2" x2="703.0" y2="461.2"/>
<line class="t" x1="686.6" y1="463.6" x2="703.0" y2="463.6"/>
<line class="t" x1="686.6" y1="465.9" x2="703.0" y2="465.9"/>
<line class="t" x1="686.6" y1="468.3" x2="703.0" y2="468.3"/>
<line class="t" x1="686.6" y1="470.6" x2="703.0" y2="470.6"/>
<line class="t" x1="686.6" y1="473.0" x2="703.0" y2="473.0"/>
<line class="t" x1="686.6" y1="475.3" x2="703.0" y2="475.3"/>
<line class="t" x1="686.6" y1="477.7" x2="703.0" y2="477.7"/>
<line class="t" x1="686.6" y1="480.1" x2="703.0" y2="480.1"/>
<line class="t" x1="686.6" y1="482.4" x2="703.0" y2="482.4"/>
<line class="t" x1="686.6" y1="484.8" x2="703.0" y2="484.8"/>
<line class="t" x1="686.6" y1="487.1" x2="703.0" y2="487.1"/>
<line class="t" x1="686.6" y1="489.4" x2="703.0" y2="489.4"/>
<line class="t" x1="686.6" y1="491.8" x2="703.0" y2="491.8"/>
<line class="rail" x1="704.0" y1="445.5" x2="704.0" y2="489.0"/>
<line class="rail" x1="705.6" y1="445.5" x2="705.6" y2="489.0"/>
<line class="rail" x1="716.4" y1="445.5" x2="716.4" y2="489.0"/>
<line class="rail" x1="728.2" y1="445.5" x2="728.2" y2="489.0"/>
<line class="rail" x1="739.3" y1="445.5" x2="739.3" y2="489.0"/>
<line class="t" x1="706.0" y1="448.9" x2="716.0" y2="448.9"/>
<line class="t" x1="706.0" y1="451.3" x2="716.0" y2="451.3"/>
<line class="t" x1="706.0" y1="453.7" x2="716.0" y2="453.7"/>
<line class="t" x1="706.0" y1="456.1" x2="716.0" y2="456.1"/>
<line class="t" x1="706.0" y1="458.5" x2="716.0" y2="458.5"/>
<line class="t" x1="706.0" y1="460.9" x2="716.0" y2="460.9"/>
<line class="t" x1="706.0" y1="463.3" x2="716.0" y2="463.3"/>
<line class="t" x1="706.0" y1="465.7" x2="716.0" y2="465.7"/>
<line class="t" x1="706.0" y1="468.1" x2="716.0" y2="468.1"/>
<line class="t" x1="706.0" y1="470.5" x2="716.0" y2="470.5"/>
<line class="t" x1="706.0" y1="472.9" x2="716.0" y2="472.9"/>
<line class="t" x1="706.0" y1="475.3" x2="716.0" y2="475.3"/>
<line class="t" x1="706.0" y1="477.7" x2="716.0" y2="477.7"/>
<line class="t" x1="706.0" y1="480.1" x2="716.0" y2="480.1"/>
<line class="t" x1="706.0" y1="482.5" x2="716.0" y2="482.5"/>
<line class="t" x1="706.0" y1="484.9" x2="716.0" y2="484.9"/>
<line class="t" x1="717.5" y1="448.9" x2="728.0" y2="448.9"/>
<line class="t" x1="717.5" y1="451.3" x2="728.0" y2="451.3"/>
<line class="t" x1="717.5" y1="453.7" x2="728.0" y2="453.7"/>
<line class="t" x1="717.5" y1="456.1" x2="728.0" y2="456.1"/>
<line class="t" x1="717.5" y1="458.5" x2="728.0" y2="458.5"/>
<line class="t" x1="717.5" y1="460.9" x2="728.0" y2="460.9"/>
<line class="t" x1="717.5" y1="463.3" x2="728.0" y2="463.3"/>
<line class="t" x1="717.5" y1="465.7" x2="728.0" y2="465.7"/>
<line class="t" x1="717.5" y1="468.1" x2="728.0" y2="468.1"/>
<line class="t" x1="717.5" y1="470.5" x2="728.0" y2="470.5"/>
<line class="t" x1="717.5" y1="472.9" x2="728.0" y2="472.9"/>
<line class="t" x1="717.5" y1="475.3" x2="728.0" y2="475.3"/>
<line class="t" x1="717.5" y1="477.7" x2="728.0" y2="477.7"/>
<line class="t" x1="717.5" y1="480.1" x2="728.0" y2="480.1"/>
<line class="t" x1="717.5" y1="482.5" x2="728.0" y2="482.5"/>
<line class="t" x1="717.5" y1="484.9" x2="728.0" y2="484.9"/>
<line class="t" x1="729.5" y1="448.9" x2="739.0" y2="448.9"/>
<line class="t" x1="729.5" y1="451.3" x2="739.0" y2="451.3"/>
<line class="t" x1="729.5" y1="453.7" x2="739.0" y2="453.7"/>
<line class="t" x1="729.5" y1="456.1" x2="739.0" y2="456.1"/>
<line class="t" x1="729.5" y1="458.5" x2="739.0" y2="458.5"/>
<line class="t" x1="729.5" y1="460.9" x2="739.0" y2="460.9"/>
<line class="t" x1="729.5" y1="463.3" x2="739.0" y2="463.3"/>
<line class="t" x1="729.5" y1="465.7" x2="739.0" y2="465.7"/>
<line class="t" x1="729.5" y1="468.1" x2="739.0" y2="468.1"/>
<line class="t" x1="729.5" y1="470.5" x2="739.0" y2="470.5"/>
<line class="t" x1="729.5" y1="472.9" x2="739.0" y2="472.9"/>
<line class="t" x1="729.5" y1="475.3" x2="739.0" y2="475.3"/>
<line class="t" x1="729.5" y1="477.7" x2="739.0" y2="477.7"/>
<line class="t" x1="729.5" y1="480.1" x2="739.0" y2="480.1"/>
<line class="t" x1="729.5" y1="482.5" x2="739.0" y2="482.5"/>
<line class="t" x1="729.5" y1="484.9" x2="739.0" y2="484.9"/>
<path class="t" d="M686.6 492.9 L740.8 485.1"/>
<rect class="t" x="685.6" y="485.1" width="55.2" height="12.6"/>
<line class="w" x1="685.6" y1="497.7" x2="740.8" y2="497.7"/>
<line class="t" x1="686.0" y1="497.7" x2="686.0" y2="503.3"/>
<line class="t" x1="691.4" y1="497.7" x2="691.4" y2="503.3"/>
<line class="t" x1="696.8" y1="497.7" x2="696.8" y2="503.3"/>
<line class="t" x1="702.2" y1="497.7" x2="702.2" y2="503.3"/>
<line class="t" x1="707.6" y1="497.7" x2="707.6" y2="503.3"/>
<line class="t" x1="713.0" y1="497.7" x2="713.0" y2="503.3"/>
<line class="t" x1="718.4" y1="497.7" x2="718.4" y2="503.3"/>
<line class="t" x1="723.8" y1="497.7" x2="723.8" y2="503.3"/>
<line class="t" x1="729.2" y1="497.7" x2="729.2" y2="503.3"/>
<line class="t" x1="734.6" y1="497.7" x2="734.6" y2="503.3"/>
<line class="t" x1="740.0" y1="497.7" x2="740.0" y2="503.3"/>
<line class="w" x1="685.6" y1="497.7" x2="685.6" y2="503.5"/>
<line class="w" x1="740.4" y1="497.7" x2="740.4" y2="503.5"/>
<line class="t" x1="704.0" y1="438.7" x2="704.0" y2="445.5"/>
<line class="t" x1="716.4" y1="438.7" x2="716.4" y2="445.5"/>
<line class="t" x1="728.2" y1="438.7" x2="728.2" y2="445.5"/>
<line class="t" x1="740.3" y1="438.7" x2="740.3" y2="445.5"/>
<line class="t" x1="704.0" y1="438.5" x2="740.3" y2="438.5"/>
<rect class="t" x="707.4" y="505.6" width="11.2" height="10.1"/>
<circle class="t" cx="568.6" cy="484.0" r="2.6"/>
<line class="hair" x1="567.5" y1="483.2" x2="569.7" y2="483.2"/>
<line class="hair" x1="568.6" y1="483.2" x2="568.6" y2="485.0"/>
<circle class="t" cx="652.2" cy="484.0" r="2.6"/>
<line class="hair" x1="651.1" y1="483.2" x2="653.3" y2="483.2"/>
<line class="hair" x1="652.2" y1="483.2" x2="652.2" y2="485.0"/>
<circle class="t" cx="905.0" cy="484.0" r="2.6"/>
<line class="hair" x1="903.9" y1="483.2" x2="906.1" y2="483.2"/>
<line class="hair" x1="905.0" y1="483.2" x2="905.0" y2="485.0"/>
<polyline class="w" points="829.8,448.8 829.8,411.6 843.7,411.6"/>
<path class="t" d="M843.7 411.6 L843.7 405 A7 7 0 0 1 850.7 411.6"/>
<line class="w" x1="853.0" y1="373.7" x2="853.0" y2="448.8"/>
<polyline class="w" points="829.8,448.8 863.5,448.8"/>
<path class="arc" d="M863.5 455.8 A7.0 7.0 0 0 0 870.5 450.0 M877.5 455.8 A7.0 7.0 0 0 1 870.5 450.0 M877.5 455.8 A7.0 7.0 0 0 0 884.5 450.0 M891.5 455.8 A7.0 7.0 0 0 1 884.5 450.0 "/>
<line class="frame" x1="863.5" y1="448.8" x2="863.5" y2="455.8"/>
<line class="leaf" x1="877.5" y1="448.8" x2="877.5" y2="455.8"/>
<line class="frame" x1="891.5" y1="448.8" x2="891.5" y2="455.8"/>
<polyline class="w" points="891.5,448.8 902.0,448.8 902.0,373.7"/>
<line class="w" x1="907.6" y1="373.7" x2="907.6" y2="448.8"/>
<line class="t" x1="854.0" y1="411.0" x2="869.8" y2="411.0"/>
<line class="t" x1="854.0" y1="413.4" x2="869.8" y2="413.4"/>
<line class="t" x1="854.0" y1="415.9" x2="869.8" y2="415.9"/>
<line class="t" x1="854.0" y1="418.4" x2="869.8" y2="418.4"/>
<line class="t" x1="854.0" y1="420.8" x2="869.8" y2="420.8"/>
<line class="t" x1="854.0" y1="423.2" x2="869.8" y2="423.2"/>
<line class="t" x1="854.0" y1="425.7" x2="869.8" y2="425.7"/>
<line class="t" x1="854.0" y1="428.1" x2="869.8" y2="428.1"/>
<line class="t" x1="869.8" y1="410.4" x2="869.8" y2="432.1"/>
<line class="t" x1="870.4" y1="392.5" x2="885.5" y2="392.5"/>
<line class="t" x1="870.4" y1="394.9" x2="885.5" y2="394.9"/>
<line class="t" x1="870.4" y1="397.4" x2="885.5" y2="397.4"/>
<line class="t" x1="870.4" y1="399.9" x2="885.5" y2="399.9"/>
<line class="t" x1="870.4" y1="402.3" x2="885.5" y2="402.3"/>
<line class="t" x1="870.4" y1="404.8" x2="885.5" y2="404.8"/>
<line class="t" x1="870.4" y1="407.2" x2="885.5" y2="407.2"/>
<line class="t" x1="870.4" y1="409.6" x2="885.5" y2="409.6"/>
<line class="t" x1="870.4" y1="389.8" x2="870.4" y2="419.4"/>
<line class="t" x1="885.5" y1="389.8" x2="885.5" y2="419.4"/>
<line class="t" x1="870.4" y1="419.4" x2="885.5" y2="419.4"/>
<polyline class="t" points="908.5,379.5 925.4,379.5 925.4,392.2 934.0,392.2"/>
<line class="w" x1="934.0" y1="392.2" x2="934.0" y2="448.5"/>
<polyline class="w" points="907.6,448.5 912.0,448.5"/>
<rect class="t" x="929.5" y="434.6" width="4.5" height="13.9"/>
<polyline class="t" points="908.5,437.0 918.0,437.0"/>
<path class="t" d="M918 437 L918 445 A6 6 0 0 0 924.5 448.5 L929.5 448.5"/>
<rect class="t" x="929.2" y="425.5" width="4.3" height="3.0"/>
<polyline class="t" points="937.5,374.7 937.5,383.7 945.3,383.7"/>
<polyline class="w" points="934.0,392.2 937.6,392.2 937.6,401.3"/>
<path class="t" d="M937.6 401.3 A8.5 8.5 0 0 1 946.6 410.4"/>
<polyline class="w" points="946.6,410.4 965.3,410.4 965.3,373.9"/>
<rect class="t" x="894.2" y="449.7" width="11.5" height="10.9"/>
<line class="d" x1="848.6" y1="448.8" x2="848.6" y2="517.5"/>
<line class="d" x1="859.7" y1="448.8" x2="859.7" y2="504.7"/>
<line class="d" x1="923.6" y1="448.5" x2="923.6" y2="504.7"/>
<line class="d" x1="934.5" y1="448.5" x2="934.5" y2="504.7"/>
<circle class="t" cx="905.0" cy="484.0" r="2.6"/>
<line class="hair" x1="903.9" y1="483.2" x2="906.1" y2="483.2"/>
<line class="hair" x1="905.0" y1="483.2" x2="905.0" y2="485.0"/>
<line class="w3" x1="1236.9" y1="374.0" x2="1283.0" y2="374.0"/>
<line class="w" x1="1236.9" y1="374.0" x2="1236.9" y2="448.8"/>
<polyline class="w" points="1236.9,448.8 1269.9,448.8"/>
<line class="w" x1="1283.0" y1="374.0" x2="1283.0" y2="448.8"/>
<line class="w" x1="1289.6" y1="374.0" x2="1289.6" y2="448.8"/>
<circle class="t" cx="1281.0" cy="378.9" r="1.1"/>
<circle class="t" cx="1281.0" cy="385.6" r="1.1"/>
<circle class="t" cx="1281.0" cy="392.3" r="1.1"/>
<circle class="t" cx="1281.0" cy="399.0" r="1.1"/>
<circle class="t" cx="1281.0" cy="405.7" r="1.1"/>
<circle class="t" cx="1281.0" cy="412.4" r="1.1"/>
<circle class="t" cx="1281.0" cy="419.1" r="1.1"/>
<polyline class="t" points="1236.9,433.0 1269.9,433.0 1269.9,448.8"/>
<rect class="t" x="1238.5" y="434.5" width="5.5" height="5.5"/>
<path class="t" d="M1258 433 L1258 440 A6 6 0 0 0 1264 433"/>
<rect class="t" x="1241.5" y="450.0" width="11.2" height="10.0"/>
<line class="w" x1="1283.0" y1="374.0" x2="1341.8" y2="374.0"/>
<line class="w" x1="1339.5" y1="374.0" x2="1339.5" y2="448.8"/>
<polyline class="w" points="1289.6,448.8 1301.3,448.8"/>
<path class="arc" d="M1301.3 455.6 A6.8 6.8 0 0 0 1308.1 450.0 M1314.9 455.6 A6.8 6.8 0 0 1 1308.1 450.0 M1314.9 455.6 A6.8 6.8 0 0 0 1321.8 450.0 M1328.6 455.6 A6.8 6.8 0 0 1 1321.8 450.0 "/>
<line class="frame" x1="1301.3" y1="448.8" x2="1301.3" y2="455.6"/>
<line class="leaf" x1="1314.9" y1="448.8" x2="1314.9" y2="455.6"/>
<line class="frame" x1="1328.6" y1="448.8" x2="1328.6" y2="455.6"/>
<line class="w" x1="1328.6" y1="448.8" x2="1339.5" y2="448.8"/>
<line class="t" x1="1307.0" y1="394.3" x2="1322.6" y2="394.3"/>
<line class="t" x1="1307.0" y1="396.5" x2="1322.6" y2="396.5"/>
<line class="t" x1="1307.0" y1="398.7" x2="1322.6" y2="398.7"/>
<line class="t" x1="1307.0" y1="400.9" x2="1322.6" y2="400.9"/>
<line class="t" x1="1307.0" y1="403.1" x2="1322.6" y2="403.1"/>
<line class="t" x1="1307.0" y1="405.3" x2="1322.6" y2="405.3"/>
<line class="t" x1="1307.0" y1="407.5" x2="1322.6" y2="407.5"/>
<line class="t" x1="1307.0" y1="409.7" x2="1322.6" y2="409.7"/>
<line class="t" x1="1307.0" y1="390.0" x2="1307.0" y2="419.1"/>
<line class="t" x1="1322.6" y1="390.0" x2="1322.6" y2="419.1"/>
<line class="t" x1="1307.0" y1="419.1" x2="1322.6" y2="419.1"/>
<line class="t" x1="1290.3" y1="411.5" x2="1306.8" y2="411.5"/>
<line class="t" x1="1290.3" y1="413.8" x2="1306.8" y2="413.8"/>
<line class="t" x1="1290.3" y1="416.1" x2="1306.8" y2="416.1"/>
<line class="t" x1="1290.3" y1="418.4" x2="1306.8" y2="418.4"/>
<line class="t" x1="1290.3" y1="420.7" x2="1306.8" y2="420.7"/>
<line class="t" x1="1290.3" y1="423.0" x2="1306.8" y2="423.0"/>
<line class="t" x1="1290.3" y1="425.3" x2="1306.8" y2="425.3"/>
<line class="t" x1="1290.3" y1="427.6" x2="1306.8" y2="427.6"/>
<line class="t" x1="1306.8" y1="410.5" x2="1306.8" y2="432.0"/>
<line class="w" x1="1358.9" y1="374.0" x2="1358.9" y2="448.8"/>
<rect class="t" x="1340.8" y="425.0" width="17.2" height="22.5"/>
<rect class="t" x="1342.4" y="425.7" width="14.6" height="21.1"/>
<line class="t" x1="1342.4" y1="425.7" x2="1357.0" y2="446.8"/>
<line class="t" x1="1357.0" y1="425.7" x2="1342.4" y2="446.8"/>
<path class="arc" d="M1342.4 366.7 A7.3 7.3 0 0 1 1349.7 372.8 M1357.0 366.7 A7.3 7.3 0 0 0 1349.7 372.8 "/>
<line class="frame" x1="1342.4" y1="374.0" x2="1342.4" y2="366.7"/>
<line class="frame" x1="1357.0" y1="374.0" x2="1357.0" y2="366.7"/>
<line class="w" x1="1341.8" y1="374.0" x2="1342.4" y2="374.0"/>
<line class="w" x1="1357.0" y1="374.0" x2="1405.0" y2="374.0"/>
<line class="w" x1="1358.9" y1="448.8" x2="1405.0" y2="448.8"/>
<line class="w" x1="1405.0" y1="374.0" x2="1405.0" y2="404.8"/>
<line class="w" x1="1405.0" y1="421.7" x2="1405.0" y2="448.8"/>
<path class="arc" d="M1413.5 404.8 A8.4 8.4 0 0 1 1406.2 413.2 M1413.5 421.7 A8.4 8.4 0 0 0 1406.2 413.2 "/>
<line class="frame" x1="1405.0" y1="404.8" x2="1413.5" y2="404.8"/>
<line class="frame" x1="1405.0" y1="421.7" x2="1413.5" y2="421.7"/>
<rect class="t" x="1397.0" y="375.5" width="6.5" height="5.5"/>
<path class="arc" d="M1404.0 452.9 A4.1 4.1 0 0 0 1408.2 450.0 M1412.3 452.9 A4.1 4.1 0 0 1 1408.2 450.0 "/>
<line class="frame" x1="1404.0" y1="448.8" x2="1404.0" y2="452.9"/>
<line class="frame" x1="1412.3" y1="448.8" x2="1412.3" y2="452.9"/>
<line class="w" x1="1412.3" y1="448.8" x2="1439.0" y2="448.8"/>
<path class="arc" d="M1439.0 456.5 A7.7 7.7 0 0 0 1446.7 450.0 M1454.4 456.5 A7.7 7.7 0 0 1 1446.7 450.0 "/>
<line class="frame" x1="1439.0" y1="448.8" x2="1439.0" y2="456.5"/>
<line class="frame" x1="1454.4" y1="448.8" x2="1454.4" y2="456.5"/>
<path class="arc" d="M1454.4 456.5 A7.7 7.7 0 0 0 1462.1 450.0 M1469.8 456.5 A7.7 7.7 0 0 1 1462.1 450.0 "/>
<line class="frame" x1="1454.4" y1="448.8" x2="1454.4" y2="456.5"/>
<line class="frame" x1="1469.8" y1="448.8" x2="1469.8" y2="456.5"/>
<path class="arc" d="M1469.8 456.5 A7.7 7.7 0 0 0 1477.5 450.0 M1485.2 456.5 A7.7 7.7 0 0 1 1477.5 450.0 "/>
<line class="frame" x1="1469.8" y1="448.8" x2="1469.8" y2="456.5"/>
<line class="frame" x1="1485.2" y1="448.8" x2="1485.2" y2="456.5"/>
<path class="arc" d="M1485.2 456.5 A7.7 7.7 0 0 0 1492.9 450.0 M1500.6 456.5 A7.7 7.7 0 0 1 1492.9 450.0 "/>
<line class="frame" x1="1485.2" y1="448.8" x2="1485.2" y2="456.5"/>
<line class="frame" x1="1500.6" y1="448.8" x2="1500.6" y2="456.5"/>
<path class="arc" d="M1500.6 456.5 A7.7 7.7 0 0 0 1508.3 450.0 M1516.0 456.5 A7.7 7.7 0 0 1 1508.3 450.0 "/>
<line class="frame" x1="1500.6" y1="448.8" x2="1500.6" y2="456.5"/>
<line class="frame" x1="1516.0" y1="448.8" x2="1516.0" y2="456.5"/>
<rect class="t" x="1416.0" y="450.0" width="5.4" height="5.0"/>
<circle class="t" cx="1434.7" cy="455.6" r="2.6"/>
<line class="hair" x1="1433.6" y1="454.8" x2="1435.8" y2="454.8"/>
<line class="hair" x1="1434.7" y1="454.8" x2="1434.7" y2="456.6"/>
<path class="t" d="M1414 445.3 L1414 443 A5.8 3 0 0 1 1425.6 443 L1425.6 445.3 Z"/>
<rect class="d" x="1297.5" y="318.5" width="100.0" height="49.3"/>
<path class="t" d="M1342.5 374 L1342.5 367 M1357 374 L1357 367"/>
<line class="d" x1="1281.3" y1="0.0" x2="1281.3" y2="373.0"/>
<line class="d" x1="1285.7" y1="0.0" x2="1285.7" y2="373.0"/>
<line class="dd" x1="1283.5" y1="0.0" x2="1283.5" y2="373.0"/>
<path class="t" d="M1276.4 374 L1276.4 354 A6 6 0 0 1 1282 349 M1289.6 374 L1289.6 354 A6 6 0 0 0 1284 349"/>
<circle class="t" cx="1253.8" cy="48.4" r="3.6"/>
<rect class="t" x="1252.0" y="36.4" width="3.6" height="8.4"/>
<rect class="t" x="1285.5" y="36.4" width="4.0" height="24.0"/>
<line class="hair" x1="1252.5" y1="48.4" x2="1255.0" y2="48.4"/>
<circle class="t" cx="1253.8" cy="180.2" r="3.6"/>
<rect class="t" x="1252.0" y="168.2" width="3.6" height="8.4"/>
<rect class="t" x="1285.5" y="168.2" width="4.0" height="24.0"/>
<line class="hair" x1="1252.5" y1="180.2" x2="1255.0" y2="180.2"/>
<circle class="t" cx="1253.8" cy="311.4" r="5.6"/>
<line class="hair" x1="1252.0" y1="311.4" x2="1255.6" y2="311.4"/>
<polyline class="sk" points="1216.2,0.0 1216.2,306.2 1291.4,306.2 1291.4,318.4 1300.0,318.4"/>
<polyline class="sk" points="1260.6,0.0 1260.6,267.7 1464.0,267.7 1464.0,398.7 1516.0,398.7"/>
<polyline class="sk" points="1291.4,312.8 1419.2,312.8 1419.2,440.5"/>
<line class="sk" x1="1416.3" y1="311.7" x2="1416.3" y2="440.5"/>
<line class="sk" x1="1425.0" y1="442.3" x2="1516.0" y2="442.3"/>
<line class="d" x1="1425.0" y1="440.5" x2="1516.0" y2="440.5"/>
<rect class="t" x="1270.0" y="265.0" width="25.0" height="4.0"/>
<line class="d" x1="1403.3" y1="448.8" x2="1403.3" y2="552.0"/>
<line class="d" x1="1416.5" y1="448.8" x2="1416.5" y2="552.0"/>
<polyline class="w" points="1434.7,551.6 1411.0,551.6 1411.0,597.1 1417.3,597.1"/>
<polyline class="w" points="1444.9,551.6 1473.9,551.6 1473.9,597.1 1430.4,597.1"/>
<path class="arc" d="M1417.3 603.7 A6.6 6.6 0 0 0 1423.8 598.3 M1430.4 603.7 A6.6 6.6 0 0 1 1423.8 598.3 "/>
<line class="frame" x1="1417.3" y1="597.1" x2="1417.3" y2="603.7"/>
<line class="frame" x1="1430.4" y1="597.1" x2="1430.4" y2="603.7"/>
<path class="arc" d="M1474.4 604.1 A7.0 7.0 0 0 0 1481.4 598.3 M1488.4 604.1 A7.0 7.0 0 0 1 1481.4 598.3 "/>
<line class="frame" x1="1474.4" y1="597.1" x2="1474.4" y2="604.1"/>
<line class="frame" x1="1488.4" y1="597.1" x2="1488.4" y2="604.1"/>
<path class="arc" d="M1488.4 604.1 A7.0 7.0 0 0 0 1495.4 598.3 M1502.4 604.1 A7.0 7.0 0 0 1 1495.4 598.3 "/>
<line class="frame" x1="1488.4" y1="597.1" x2="1488.4" y2="604.1"/>
<line class="frame" x1="1502.4" y1="597.1" x2="1502.4" y2="604.1"/>
<path class="arc" d="M1502.4 604.1 A7.0 7.0 0 0 0 1509.4 598.3 M1516.4 604.1 A7.0 7.0 0 0 1 1509.4 598.3 "/>
<line class="frame" x1="1502.4" y1="597.1" x2="1502.4" y2="604.1"/>
<line class="frame" x1="1516.4" y1="597.1" x2="1516.4" y2="604.1"/>
<path class="w2" d="M564 556.8 L900 556.6 C906.7 556.7 930.0 556.9 940.0 557.2 C950.0 557.5 950.0 556.9 960.0 558.3 C970.0 559.7 990.5 563.4 1000.0 565.6 C1009.5 567.8 1011.2 569.2 1016.9 571.5 C1022.5 573.8 1028.2 576.7 1033.9 579.6 C1039.6 582.5 1045.2 585.7 1050.8 588.9 C1056.4 592.1 1062.0 595.0 1067.7 599.0 C1073.4 603.0 1079.9 608.4 1084.7 612.6 C1089.5 616.8 1092.3 619.7 1096.5 624.4 C1100.7 629.1 1105.5 635.3 1110.0 641.0 C1114.5 646.7 1118.7 651.1 1123.5 658.4 C1128.3 665.6 1134.8 676.6 1139.0 684.5 C1143.2 692.4 1145.8 698.4 1148.7 705.8 C1151.6 713.2 1154.4 721.3 1156.4 729.0 C1158.4 736.7 1159.7 744.5 1160.7 752.2 C1161.7 759.9 1162.2 767.4 1162.6 775.4 C1162.9 783.4 1162.8 791.4 1162.8 800.0 C1162.8 808.6 1162.8 822.5 1162.8 827.0 "/>
<path class="w" d="M490.8 641 L605 641 L605 676.8 L513.7 676.8 L485.7 663.3 C482 660 481.5 648 490.8 641 Z"/>
<rect class="w" x="614.4" y="641.0" width="198.2" height="36.6"/>
<path class="w" d="M821.8 640.4 L900 640.6 C925 642 945 648 952 656 C956 661 953 666 948 669 C938 675 925 678 900 678 L821.8 678 Z"/>
<line class="dd" x1="480.0" y1="658.5" x2="1516.0" y2="658.5"/>
<circle class="t" cx="504.9" cy="652.3" r="2.3"/>
<circle class="t" cx="568.7" cy="652.3" r="2.3"/>
<circle class="t" cx="673.9" cy="652.3" r="2.3"/>
<circle class="t" cx="750.8" cy="652.3" r="2.3"/>
<circle class="t" cx="868.0" cy="652.3" r="2.3"/>
<circle class="t" cx="937.0" cy="652.3" r="2.3"/>
<circle class="t" cx="1287.0" cy="651.0" r="2.3"/>
<circle class="t" cx="1410.8" cy="652.0" r="2.6"/>
<line class="hair" x1="1409.7" y1="651.2" x2="1411.9" y2="651.2"/>
<line class="hair" x1="1410.8" y1="651.2" x2="1410.8" y2="653.0"/>
<path class="t15" d="M1009.3 633.7 C1014.8 635.4 1029.2 643.5 1038.8 651.0 C1048.3 658.5 1058.5 668.4 1066.6 678.8 C1074.7 689.2 1082.2 701.9 1087.4 713.5 C1092.6 725.1 1096.7 741.3 1097.8 748.2 C1098.9 755.1 1095.2 754.2 1094.3 755.1 C1093.4 756.0 1094.9 756.3 1092.6 753.4 C1090.3 750.5 1086.5 743.3 1080.4 737.8 C1074.3 732.3 1063.3 725.3 1056.1 720.4 C1048.9 715.5 1041.3 715.2 1037.0 708.3 C1032.7 701.4 1033.0 687.8 1030.1 678.8 C1027.2 669.8 1023.8 660.9 1019.7 654.5 C1015.7 648.1 1007.5 644.1 1005.8 640.6 C1004.1 637.1 1003.8 632.0 1009.3 633.7 Z"/>
<rect class="t" x="782.8" y="578.5" width="43.7" height="44.2" rx="3"/>
<path class="t15" d="M82.0 618.0 C95.8 619.3 137.5 621.1 165.0 626.0 C192.5 630.9 227.4 641.3 247.0 647.5 C266.6 653.7 268.6 655.4 282.3 663.1 C296.0 670.9 318.0 686.7 329.0 694.0 C340.0 701.3 337.7 700.2 348.2 707.0 C358.7 713.8 375.5 724.9 392.0 734.5 C408.5 744.1 425.7 755.6 447.0 764.7 C468.3 773.9 501.2 783.6 520.0 789.4 C538.8 795.2 545.1 796.9 560.0 799.4 C574.9 801.9 594.5 803.7 609.5 804.6 C624.5 805.5 628.2 804.9 650.0 805.0 C671.8 805.1 716.7 805.5 740.0 805.0 C763.3 804.5 775.0 803.6 790.0 802.0 C805.0 800.4 818.3 797.7 830.0 795.5 C841.7 793.3 849.7 791.5 860.0 789.0 C870.3 786.5 881.2 782.7 891.7 780.3 C902.2 777.9 913.4 775.9 923.3 774.4 C933.2 772.9 944.9 771.7 951.0 771.2 C957.1 770.7 957.8 770.9 960.0 771.2 C962.2 771.5 963.4 772.2 964.3 773.2 C965.2 774.2 965.3 775.8 965.3 777.0 C965.3 778.2 965.5 778.4 964.5 780.3 C963.5 782.2 961.9 785.1 959.0 788.3 C956.1 791.5 951.6 796.0 947.0 799.3 C942.4 802.6 936.6 805.9 931.3 808.0 C926.0 810.1 923.9 811.3 915.4 812.0 C906.9 812.7 905.9 812.4 880.0 812.4 C854.1 812.4 804.3 812.3 760.0 812.2 C715.7 812.1 647.7 812.7 614.4 811.9 C581.1 811.1 575.7 810.0 560.0 807.6 C544.3 805.2 538.8 803.6 520.0 797.6 C501.2 791.6 468.3 780.6 447.0 771.5 C425.7 762.4 408.6 752.3 392.1 742.7 C375.6 733.1 366.5 726.0 348.2 713.9 C329.9 701.8 307.0 682.2 282.3 670.0 C257.6 657.8 223.7 647.3 200.0 640.6 C176.3 633.9 159.7 632.4 140.0 630.0 C120.3 627.6 91.7 626.7 82.0 626.0 "/>
<path class="t15" d="M82 618 A4 4 0 0 0 82 626"/>
<path class="t15" d="M130.0 678.0 C140.3 680.1 173.7 685.8 192.0 690.6 C210.3 695.4 224.9 700.6 240.0 707.0 C255.1 713.4 268.4 719.4 282.3 729.0 C296.2 738.6 312.5 754.6 323.5 764.7 C334.5 774.8 336.8 780.3 348.2 789.4 C359.6 798.5 382.9 813.2 392.0 819.5 C401.1 825.8 401.2 825.8 403.0 827.0 "/>
<path class="dk2" d="M130.0 686.5 C141.7 689.0 176.9 694.0 200.0 701.5 C223.1 709.0 252.6 723.7 268.6 731.7 C284.6 739.7 286.9 742.3 296.0 749.6 C305.1 756.9 313.9 767.6 323.5 775.6 C333.1 783.6 343.2 789.0 353.7 797.6 C364.2 806.2 381.1 822.1 386.6 827.0 "/>
<line class="t" x1="130.0" y1="678.0" x2="130.0" y2="686.5"/>
<path class="t15" d="M82 765.5 L82 758 C100 745 115 741 126 741 L145.5 741 C170 746 185 750 200 755 L296 796.2 L290.6 808.6 L82 765.5"/>
<line class="t15" x1="82.0" y1="758.0" x2="82.0" y2="827.0"/>
<line class="t" x1="80.5" y1="758.0" x2="80.5" y2="827.0"/>
<path class="d" d="M74 772 C65 785 58 800 55 827"/>
<path class="t" d="M296 796.2 L331 827"/>
<circle class="t" cx="309.4" cy="804.5" r="1.6"/>
<circle class="t" cx="320.7" cy="812.8" r="1.6"/>
<circle class="t" cx="332.7" cy="821.0" r="1.6"/>
<path class="t15" d="M988.5 827 L1013.8 787.4 C1025 797 1040 812 1049.2 827"/>
<circle class="blk" cx="1165.4" cy="698.3" r="0.9"/>
<circle class="t" cx="1170.7" cy="698.3" r="0.9"/>
<circle class="blk" cx="1168.0" cy="748.4" r="0.9"/>
<circle class="t" cx="1173.3" cy="748.4" r="0.9"/>
<circle class="blk" cx="1170.4" cy="799.0" r="0.9"/>
<circle class="t" cx="1175.7" cy="799.0" r="0.9"/>
<rect class="t" x="1162.8" y="814.0" width="12.9" height="14.0"/>
<path class="cap" d="M1322.7 680 L1321 680 A17.25 17.25 0 0 0 1321 714.5 L1373 714.5 M1386 714.5 L1387.5 714.5 A17.25 17.25 0 0 0 1387.5 680 L1336.2 680"/>
<line class="capd" x1="1336.2" y1="680.0" x2="1386.0" y2="680.0"/>
<line class="capd" x1="1333.0" y1="714.5" x2="1371.8" y2="714.5"/>
<line class="t" x1="1337.4" y1="680.0" x2="1337.4" y2="714.5"/>
<line class="t" x1="1371.4" y1="680.0" x2="1371.4" y2="714.5"/>
<line class="w" x1="1337.4" y1="697.0" x2="1375.8" y2="697.0"/>
<line class="t" x1="1351.0" y1="680.5" x2="1351.0" y2="697.0"/>
<line class="t" x1="1352.7" y1="680.5" x2="1352.7" y2="697.0"/>
<line class="t" x1="1354.3" y1="680.5" x2="1354.3" y2="697.0"/>
<line class="t" x1="1356.0" y1="680.5" x2="1356.0" y2="697.0"/>
<line class="t" x1="1357.6" y1="680.5" x2="1357.6" y2="697.0"/>
<line class="t" x1="1359.2" y1="680.5" x2="1359.2" y2="697.0"/>
<line class="t" x1="1360.9" y1="680.5" x2="1360.9" y2="697.0"/>
<line class="t" x1="1362.5" y1="680.5" x2="1362.5" y2="697.0"/>
<line class="t" x1="1364.2" y1="680.5" x2="1364.2" y2="697.0"/>
<line class="t" x1="1365.8" y1="680.5" x2="1365.8" y2="697.0"/>
<line class="t" x1="1367.5" y1="680.5" x2="1367.5" y2="697.0"/>
<line class="t" x1="1369.2" y1="680.5" x2="1369.2" y2="697.0"/>
<line class="t" x1="1370.8" y1="680.5" x2="1370.8" y2="697.0"/>
<line class="t" x1="1338.5" y1="697.5" x2="1338.5" y2="714.0"/>
<line class="t" x1="1340.1" y1="697.5" x2="1340.1" y2="714.0"/>
<line class="t" x1="1341.7" y1="697.5" x2="1341.7" y2="714.0"/>
<line class="t" x1="1343.3" y1="697.5" x2="1343.3" y2="714.0"/>
<line class="t" x1="1344.9" y1="697.5" x2="1344.9" y2="714.0"/>
<line class="t" x1="1346.5" y1="697.5" x2="1346.5" y2="714.0"/>
<line class="t" x1="1348.1" y1="697.5" x2="1348.1" y2="714.0"/>
<line class="t" x1="1349.7" y1="697.5" x2="1349.7" y2="714.0"/>
<line class="t" x1="1351.3" y1="697.5" x2="1351.3" y2="714.0"/>
<line class="t" x1="1352.9" y1="697.5" x2="1352.9" y2="714.0"/>
<line class="t" x1="1354.5" y1="697.5" x2="1354.5" y2="714.0"/>
<line class="t" x1="1356.1" y1="697.5" x2="1356.1" y2="714.0"/>
<line class="t" x1="1350.4" y1="680.5" x2="1352.5" y2="697.0"/>
<line class="t" x1="1356.0" y1="697.5" x2="1357.0" y2="714.0"/>
<path class="arc" d="M1322.7 673.2 A6.8 6.8 0 0 1 1329.5 678.8 M1336.2 673.2 A6.8 6.8 0 0 0 1329.5 678.8 "/>
<line class="frame" x1="1322.7" y1="680.0" x2="1322.7" y2="673.2"/>
<line class="frame" x1="1336.2" y1="680.0" x2="1336.2" y2="673.2"/>
<path class="arc" d="M1373.0 721.0 A6.5 6.5 0 0 0 1379.5 715.7 M1386.0 721.0 A6.5 6.5 0 0 1 1379.5 715.7 "/>
<line class="frame" x1="1373.0" y1="714.5" x2="1373.0" y2="721.0"/>
<line class="frame" x1="1386.0" y1="714.5" x2="1386.0" y2="721.0"/>
<g class="sm"><text x="895.5" y="454.5" textLength="8.5" lengthAdjust="spacingAndGlyphs" font-size="3.5">LIGHT</text><text x="896.5" y="459.0" textLength="6.5" lengthAdjust="spacingAndGlyphs" font-size="3.5">BOX</text><text x="1243.0" y="454.5" textLength="8.5" lengthAdjust="spacingAndGlyphs" font-size="3.5">LIGHT</text><text x="1244.0" y="459.0" textLength="6.5" lengthAdjust="spacingAndGlyphs" font-size="3.5">BOX</text><text x="1289.8" y="296.0" textLength="99.2" lengthAdjust="spacingAndGlyphs" font-size="12.6">SKY WALK ABOVE</text><text x="1389.7" y="282.0" textLength="68.3" lengthAdjust="spacingAndGlyphs" font-size="9.8">CEILING HEIGHT</text><text x="1414.0" y="292.8" textLength="21.0" lengthAdjust="spacingAndGlyphs" font-size="9.8">21'-7"</text><text x="1426.0" y="411.6" textLength="70.7" lengthAdjust="spacingAndGlyphs" font-size="9.8">CEILING HEIGHT</text><text x="1449.5" y="422.3" textLength="25.4" lengthAdjust="spacingAndGlyphs" font-size="9.8">19'-11"</text><text x="1431.3" y="435.8" textLength="99.2" lengthAdjust="spacingAndGlyphs" font-size="12.6">SKY WALK ABOVE</text><text x="1221.3" y="206.0" textLength="33.9" lengthAdjust="spacingAndGlyphs" font-size="9.3">CEILING</text><text x="1222.3" y="217.1" textLength="31.5" lengthAdjust="spacingAndGlyphs" font-size="9.3">HEIGHT</text><text x="1233.2" y="228.3" textLength="11.2" lengthAdjust="spacingAndGlyphs" font-size="9.3">24'</text><text x="1147.7" y="461.6" textLength="74.3" lengthAdjust="spacingAndGlyphs" font-size="8">NORTH CONCOURSE</text><text x="1172.9" y="470.8" textLength="23.7" lengthAdjust="spacingAndGlyphs" font-size="8">LOBBY</text></g>
<g><rect class="ib" x="682.5" y="416.3" width="22.0" height="22.0" rx="2.5"/><g transform="translate(682.5,416.3) scale(1.000)"><circle cx="10.1" cy="3.1" r="1.75" fill="#000"/><g fill="none" stroke="#000" stroke-linecap="round" stroke-linejoin="round"><path d="M10 5.3 L10.5 10.2" stroke-width="2.7"/><path d="M9.5 6 L8 9.2" stroke-width="1.5"/><path d="M10.7 6.2 L13.9 9.1" stroke-width="1.5"/><path d="M10.4 10 L9.9 16.4" stroke-width="2"/><path d="M10.9 10.2 L13.1 12.1 L13.9 14.3" stroke-width="1.9"/></g><path d="M3.3 19.9 L5.5 19.6 L6.5 18.6 L8.6 18.4 L9.6 17.2 L11.5 17 L13 15.6 L15 15.3 L16 14 L18.2 13.6 L19 12.6 L21 12.3" fill="none" stroke="#4a5a50" stroke-width="0.6"/></g><rect class="ib" x="710.6" y="416.3" width="22.0" height="22.0" rx="2.5"/><g transform="translate(710.6,416.3)"><path d="M4.6 15.3 L18.6 8.9" fill="none" stroke="#000" stroke-width="4.2" stroke-linecap="round"/><circle cx="11.4" cy="6.2" r="1.35" fill="#000"/><path d="M11 7.6 L12 10.6" fill="none" stroke="#000" stroke-width="2.4" stroke-linecap="round"/></g><rect class="ib" x="529.0" y="421.5" width="21.2" height="20.6" rx="2.5"/><g transform="translate(529.0,421.5) scale(0.955)"><circle cx="10.1" cy="3.1" r="1.75" fill="#000"/><g fill="none" stroke="#000" stroke-linecap="round" stroke-linejoin="round"><path d="M10 5.3 L10.5 10.2" stroke-width="2.7"/><path d="M9.5 6 L8 9.2" stroke-width="1.5"/><path d="M10.7 6.2 L13.9 9.1" stroke-width="1.5"/><path d="M10.4 10 L9.9 16.4" stroke-width="2"/><path d="M10.9 10.2 L13.1 12.1 L13.9 14.3" stroke-width="1.9"/></g><path d="M3.3 19.9 L5.5 19.6 L6.5 18.6 L8.6 18.4 L9.6 17.2 L11.5 17 L13 15.6 L15 15.3 L16 14 L18.2 13.6 L19 12.6 L21 12.3" fill="none" stroke="#4a5a50" stroke-width="0.6"/></g><rect class="ib" x="81.8" y="313.9" width="21.9" height="21.4" rx="2.5"/><g transform="translate(81.8,313.9) scale(1.000)"><circle cx="10.1" cy="3.1" r="1.75" fill="#000"/><g fill="none" stroke="#000" stroke-linecap="round" stroke-linejoin="round"><path d="M10 5.3 L10.5 10.2" stroke-width="2.7"/><path d="M9.5 6 L8 9.2" stroke-width="1.5"/><path d="M10.7 6.2 L13.9 9.1" stroke-width="1.5"/><path d="M10.4 10 L9.9 16.4" stroke-width="2"/><path d="M10.9 10.2 L13.1 12.1 L13.9 14.3" stroke-width="1.9"/></g><path d="M3.3 19.9 L5.5 19.6 L6.5 18.6 L8.6 18.4 L9.6 17.2 L11.5 17 L13 15.6 L15 15.3 L16 14 L18.2 13.6 L19 12.6 L21 12.3" fill="none" stroke="#4a5a50" stroke-width="0.6"/></g><rect class="ib" x="1309.4" y="421.2" width="22.2" height="22.3" rx="2.5"/><g transform="translate(1309.4,421.2) scale(1.000)"><circle cx="10.1" cy="3.1" r="1.75" fill="#000"/><g fill="none" stroke="#000" stroke-linecap="round" stroke-linejoin="round"><path d="M10 5.3 L10.5 10.2" stroke-width="2.7"/><path d="M9.5 6 L8 9.2" stroke-width="1.5"/><path d="M10.7 6.2 L13.9 9.1" stroke-width="1.5"/><path d="M10.4 10 L9.9 16.4" stroke-width="2"/><path d="M10.9 10.2 L13.1 12.1 L13.9 14.3" stroke-width="1.9"/></g><path d="M3.3 19.9 L5.5 19.6 L6.5 18.6 L8.6 18.4 L9.6 17.2 L11.5 17 L13 15.6 L15 15.3 L16 14 L18.2 13.6 L19 12.6 L21 12.3" fill="none" stroke="#4a5a50" stroke-width="0.6"/></g><rect class="ib" x="570.4" y="448.6" width="21.8" height="21.7" rx="2.5"/><g><rect x="575.8" y="456.5" width="11.7" height="11.9" fill="none" stroke="#000" stroke-width="1.1"/><circle cx="579" cy="458.6" r="1.15"/><circle cx="584.3" cy="458.6" r="1.15"/><rect x="577.5" y="459.9" width="3" height="4.6" rx="0.8"/><rect x="582.8" y="459.9" width="3" height="4.6" rx="0.8"/><rect x="578.1" y="464" width="1.8" height="3.6"/><rect x="583.4" y="464" width="1.8" height="3.6"/><path d="M577.2 452.6 L578.8 450.2 L580.4 452.6 Z M578.3 452.4 h1 v2.6 h-1z M583.1 452.6 L584.7 455 L586.3 452.6 Z M584.2 450.2 h1 v2.6 h-1z"/></g><rect class="ib" x="576.4" y="392.6" width="9.8" height="10.3" rx="2.5"/><path d="M577.2 394 h3.7 v8.1 h-3.7z"/><circle cx="584.2" cy="395.3" r="1"/><path d="M581.3 396.3 L584 396.6 L585.5 398.6 L584.6 399.2 L583.6 397.9 L582.6 398.3 L583.5 401.2 L582.4 401.4 L581.3 398.2 Z"/><path d="M713.6 507.3 C709.5 508.3 709.5 513.5 713.6 514.5 L714 513.2 C712.2 512.6 712.2 509.2 714 508.6 Z"/><rect class="ib" x="909.9" y="397.4" width="21.8" height="21.8" rx="2.5"/><g><circle cx="920.6" cy="400.4" r="1.65"/><rect x="917" y="402.6" width="7" height="7.3" rx="0.8"/><rect x="918.9" y="408" width="3.5" height="9" rx="0.6"/></g><rect class="ib" x="943.9" y="386.3" width="16.9" height="17.1" rx="2.5"/><path d="M951 388.7 h2.7 v5.2 h5.2 v2.7 h-5.2 v5.2 h-2.7 v-5.2 h-5.5 v-2.7 h5.5z"/><rect class="ib" x="1247.4" y="394.2" width="21.2" height="22.2" rx="2.5"/><g><circle cx="1258.1" cy="397.3" r="1.8"/><path d="M1255.8 399.9 h4.6 l1.6 3.4 l-0.9 0.5 l0.2 2.8 h-6.6 l0.2 -2.8 l-0.9 -0.5 z"/><rect x="1257" y="405.5" width="2.1" height="8" rx="0.9"/></g><rect class="ib" x="1346.3" y="449.3" width="11.2" height="12.2" rx="1.2"/><g><path d="M1349.3 451.2 L1350.6 453.3 L1348 453.3 Z M1353.9 453.3 L1352.6 451.2 L1355.2 451.2 Z"/><rect x="1348.7" y="454.2" width="2.4" height="5.3"/><rect x="1352.2" y="454.2" width="2.4" height="5.3"/><rect x="1348.2" y="455.8" width="6.9" height="1"/></g><g transform="translate(793.6,592.9)"><path d="M5 4 L18 4 L20.5 10 L22.5 11 L22.5 17 L0.5 17 L0.5 11 L2.5 10 Z"/><rect x="9.5" y="1.5" width="4.5" height="2.5"/><path d="M6 5.5 L17 5.5 L18.8 10 L4.2 10 Z" fill="#d3ebdb"/><circle cx="4" cy="13" r="1.6" fill="#d3ebdb"/><circle cx="19" cy="13" r="1.6" fill="#d3ebdb"/><rect x="2" y="16" width="4" height="3.5" rx="1"/><rect x="17" y="16" width="4" height="3.5" rx="1"/><circle cx="15" cy="7.3" r="1.3"/></g></g>
<g class="dots"><circle cx="211.3" cy="463.2" r="4.0"/><circle cx="711.3" cy="372.5" r="4.0"/><circle cx="761.0" cy="436.0" r="4.0"/><circle cx="772.9" cy="485.6" r="4.0"/><circle cx="719.8" cy="503.2" r="4.0"/><circle cx="632.6" cy="529.4" r="4.0"/><circle cx="715.3" cy="525.3" r="4.0"/><circle cx="569.8" cy="551.3" r="4.0"/><circle cx="673.9" cy="550.8" r="4.0"/><circle cx="752.7" cy="551.3" r="4.0"/><circle cx="614.5" cy="579.4" r="4.0"/><circle cx="565.7" cy="604.9" r="4.0"/><circle cx="661.5" cy="604.9" r="4.0"/><circle cx="712.0" cy="579.4" r="4.0"/><circle cx="756.9" cy="604.9" r="4.0"/><circle cx="809.8" cy="579.4" r="4.0"/><circle cx="512.8" cy="670.6" r="4.0"/><circle cx="579.2" cy="670.6" r="4.0"/><circle cx="709.4" cy="670.6" r="4.0"/><circle cx="850.3" cy="670.7" r="4.0"/><circle cx="967.0" cy="670.7" r="4.0"/><circle cx="857.0" cy="551.6" r="4.0"/><circle cx="936.1" cy="510.0" r="4.0"/><circle cx="976.0" cy="510.0" r="4.0"/><circle cx="1071.9" cy="510.0" r="4.0"/><circle cx="1111.9" cy="510.0" r="4.0"/><circle cx="930.3" cy="551.6" r="4.0"/><circle cx="1023.6" cy="551.0" r="4.0"/><circle cx="1023.5" cy="482.7" r="4.0"/><circle cx="907.7" cy="579.2" r="4.0"/><circle cx="852.7" cy="604.8" r="4.0"/><circle cx="948.3" cy="604.8" r="4.0"/><circle cx="1118.0" cy="373.3" r="4.0"/><circle cx="1118.0" cy="440.3" r="4.0"/><circle cx="1156.5" cy="483.6" r="4.0"/><circle cx="1288.6" cy="483.7" r="4.0"/><circle cx="1181.9" cy="527.7" r="4.0"/><circle cx="1410.0" cy="483.8" r="4.0"/><circle cx="1481.7" cy="450.2" r="4.0"/><circle cx="1099.4" cy="587.1" r="4.0"/><circle cx="1112.0" cy="652.0" r="4.0"/><circle cx="1156.3" cy="650.2" r="4.0"/><circle cx="1288.6" cy="650.2" r="4.0"/><circle cx="1025.0" cy="650.1" r="4.0"/><circle cx="1060.6" cy="691.7" r="4.0"/><circle cx="1242.0" cy="675.2" r="4.0"/><circle cx="1326.4" cy="804.1" r="4.0"/></g>
<g class="lab"><text x="228.8" y="465.0" textLength="24.9" lengthAdjust="spacingAndGlyphs" font-size="14.2">NB3</text><text x="674.6" y="395.3" textLength="66.1" lengthAdjust="spacingAndGlyphs" font-size="14.2">ENT N3-N4</text><text x="748.1" y="422.8" textLength="25.8" lengthAdjust="spacingAndGlyphs" font-size="14.2">MB1</text><text x="789.5" y="490.7" textLength="31.5" lengthAdjust="spacingAndGlyphs" font-size="14.2">NC12</text><text x="742.4" y="509.7" textLength="31.4" lengthAdjust="spacingAndGlyphs" font-size="14.2">NB67</text><text x="618.8" y="515.4" textLength="27.1" lengthAdjust="spacingAndGlyphs" font-size="14.2">NW1</text><text x="557.9" y="537.2" textLength="23.7" lengthAdjust="spacingAndGlyphs" font-size="14.2">NC6</text><text x="662.0" y="537.2" textLength="23.0" lengthAdjust="spacingAndGlyphs" font-size="14.2">NC7</text><text x="741.2" y="537.2" textLength="23.4" lengthAdjust="spacingAndGlyphs" font-size="14.2">NC8</text><text x="703.0" y="553.0" textLength="24.0" lengthAdjust="spacingAndGlyphs" font-size="14.2">DG1</text><text x="594.0" y="569.0" textLength="33.1" lengthAdjust="spacingAndGlyphs" font-size="14.2">NB1C</text><text x="552.4" y="592.9" textLength="32.9" lengthAdjust="spacingAndGlyphs" font-size="14.2">NB1B</text><text x="647.8" y="592.9" textLength="33.3" lengthAdjust="spacingAndGlyphs" font-size="14.2">NB1D</text><text x="696.3" y="601.0" textLength="31.6" lengthAdjust="spacingAndGlyphs" font-size="14.2">NB1E</text><text x="744.7" y="592.9" textLength="31.1" lengthAdjust="spacingAndGlyphs" font-size="14.2">NB1F</text><text x="789.3" y="569.0" textLength="33.1" lengthAdjust="spacingAndGlyphs" font-size="14.2">NB1G</text><text x="488.6" y="692.5" textLength="40.3" lengthAdjust="spacingAndGlyphs" font-size="14.2">NB64B</text><text x="559.3" y="692.6" textLength="32.3" lengthAdjust="spacingAndGlyphs" font-size="14.2">NB64</text><text x="693.3" y="692.8" textLength="23.5" lengthAdjust="spacingAndGlyphs" font-size="14.2">NB5</text><text x="834.4" y="692.9" textLength="24.2" lengthAdjust="spacingAndGlyphs" font-size="14.2">NB6</text><text x="950.7" y="692.9" textLength="23.5" lengthAdjust="spacingAndGlyphs" font-size="14.2">NB7</text><text x="845.2" y="537.3" textLength="23.4" lengthAdjust="spacingAndGlyphs" font-size="14.2">NC9</text><text x="922.6" y="533.0" textLength="27.6" lengthAdjust="spacingAndGlyphs" font-size="14.2">NW2</text><text x="964.7" y="533.0" textLength="27.6" lengthAdjust="spacingAndGlyphs" font-size="14.2">NW3</text><text x="1058.0" y="533.0" textLength="28.4" lengthAdjust="spacingAndGlyphs" font-size="14.2">NW4</text><text x="1100.6" y="533.0" textLength="27.3" lengthAdjust="spacingAndGlyphs" font-size="14.2">NW5</text><text x="947.3" y="555.0" textLength="31.4" lengthAdjust="spacingAndGlyphs" font-size="14.2">NC10</text><text x="1042.8" y="555.0" textLength="32.0" lengthAdjust="spacingAndGlyphs" font-size="14.2">NC24</text><text x="1007.8" y="468.9" textLength="31.4" lengthAdjust="spacingAndGlyphs" font-size="14.2">NC20</text><text x="889.5" y="569.0" textLength="28.5" lengthAdjust="spacingAndGlyphs" font-size="14.2">NB1I</text><text x="838.7" y="593.2" textLength="33.9" lengthAdjust="spacingAndGlyphs" font-size="14.2">NB1H</text><text x="936.7" y="593.2" textLength="29.8" lengthAdjust="spacingAndGlyphs" font-size="14.2">NB1J</text><text x="1095.7" y="396.3" textLength="44.3" lengthAdjust="spacingAndGlyphs" font-size="14.2">ENT N3</text><text x="1137.3" y="444.2" textLength="25.7" lengthAdjust="spacingAndGlyphs" font-size="14.2">MB2</text><text x="1115.8" y="490.2" textLength="31.5" lengthAdjust="spacingAndGlyphs" font-size="14.2">NC21</text><text x="1273.0" y="469.4" textLength="31.5" lengthAdjust="spacingAndGlyphs" font-size="14.2">NC22</text><text x="1170.7" y="513.9" textLength="22.3" lengthAdjust="spacingAndGlyphs" font-size="14.2">FG3</text><text x="1393.8" y="469.0" textLength="31.5" lengthAdjust="spacingAndGlyphs" font-size="14.2">NC23</text><text x="1459.9" y="473.4" textLength="43.5" lengthAdjust="spacingAndGlyphs" font-size="14.2">ENT N2</text><text x="1119.3" y="591.0" textLength="24.7" lengthAdjust="spacingAndGlyphs" font-size="14.2">DG2</text><text x="1095.6" y="635.7" textLength="24.2" lengthAdjust="spacingAndGlyphs" font-size="14.2">NB8</text><text x="1140.3" y="635.7" textLength="32.2" lengthAdjust="spacingAndGlyphs" font-size="14.2">NC26</text><text x="1273.0" y="636.0" textLength="31.4" lengthAdjust="spacingAndGlyphs" font-size="14.2">NC27</text><text x="1032.3" y="633.2" textLength="31.4" lengthAdjust="spacingAndGlyphs" font-size="14.2">NC25</text><text x="1040.7" y="714.7" textLength="32.0" lengthAdjust="spacingAndGlyphs" font-size="14.2">NB65</text><text x="1225.7" y="698.4" textLength="24.3" lengthAdjust="spacingAndGlyphs" font-size="14.2">NB9</text><text x="1302.4" y="790.4" textLength="48.8" lengthAdjust="spacingAndGlyphs" font-size="14.2">Benches</text></g>
</svg></body></html>
